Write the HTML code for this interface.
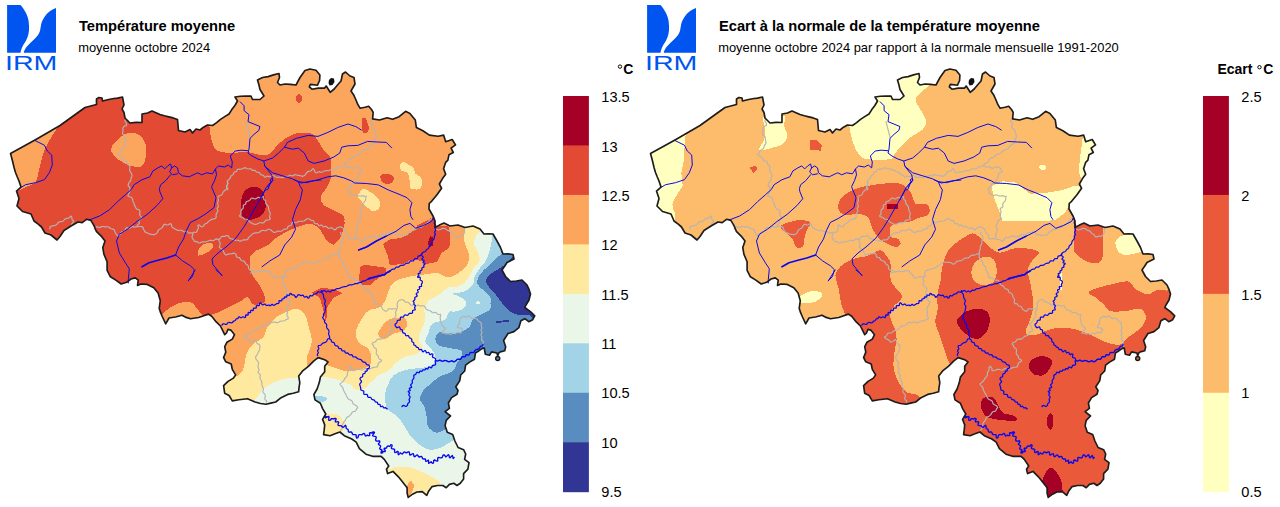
<!DOCTYPE html>
<html><head><meta charset="utf-8"><title>IRM</title>
<style>
html,body{margin:0;padding:0;background:#fff;}
body{width:1280px;height:507px;overflow:hidden;font-family:"Liberation Sans",sans-serif;}
svg{display:block;}
text{font-family:"Liberation Sans",sans-serif;fill:#000;}
</style></head><body>
<svg width="1280" height="507" viewBox="0 0 1280 507">
<defs>
<path id="bel" d="M10.5,153.5L35.0,140.0L60.0,125.5L85.0,107.5L96.5,104.5L96.5,99.0L99.0,97.5L102.0,98.0L102.5,101.0L107.5,99.8L112.4,98.7L117.5,98.1L122.5,97.0L124.0,105.0L122.0,109.0L124.0,112.5L125.0,118.0L130.0,123.0L136.0,122.4L142.0,122.5L142.0,114.0L147.5,113.0L152.0,111.0L160.0,114.5L164.4,115.8L168.8,116.9L173.2,117.9L177.5,119.5L178.0,125.0L178.5,130.5L185.0,132.0L190.0,129.5L192.5,133.0L196.0,129.0L200.0,130.0L203.5,127.2L207.5,125.0L212.5,125.5L216.6,122.6L220.5,119.4L224.7,116.6L229.0,114.0L231.8,109.6L234.9,105.5L237.5,101.0L235.0,97.0L240.3,96.3L245.7,96.1L251.0,96.0L252.5,99.5L260.0,99.5L264.0,96.0L260.0,89.5L258.9,84.7L257.5,80.0L262.5,77.5L268.1,76.6L273.5,74.9L279.0,73.5L279.5,77.5L277.5,82.5L280.0,85.0L285.0,84.0L290.5,84.4L296.0,85.0L300.0,77.5L305.0,70.5L310.0,69.0L316.0,70.3L319.9,75.0L319.6,80.5L317.5,85.2L310.4,84.4L309.3,86.8L312.0,89.2L318.3,88.1L324.6,88.1L326.2,86.0L327.5,88.0L330.2,92.3L334.2,89.0L337.5,85.0L341.0,81.0L342.5,74.0L345.5,72.0L350.0,76.0L354.0,77.5L355.0,84.0L351.0,91.0L353.9,95.3L356.0,100.0L357.7,104.2L360.0,108.2L365.0,107.2L368.7,106.3L371.5,109.5L373.2,112.4L372.6,118.9L379.5,120.0L387.1,117.8L392.6,119.3L399.1,116.7L405.6,111.3L409.9,113.4L415.3,120.0L416.4,127.6L422.9,130.8L429.4,135.1L438.1,136.2L443.6,135.1L445.7,141.7L452.2,139.5L455.5,144.9L451.1,148.2L453.3,152.5L449.0,154.7L447.9,160.1L445.7,162.3L443.6,168.8L445.7,174.2L442.5,178.6L439.4,184.0L441.6,188.3L437.0,194.8L431.6,201.3L429.2,203.5L429.0,209.0L433.0,216.0L435.0,221.0L435.0,227.5L439.4,225.1L444.0,223.0L450.0,226.0L458.0,225.0L465.0,227.5L473.0,226.0L480.0,229.0L484.0,234.0L488.5,233.7L493.0,234.0L497.0,241.0L500.5,247.5L503.0,254.0L508.0,253.9L513.0,254.5L514.0,259.0L507.0,262.5L504.6,266.3L502.0,270.0L505.5,276.5L510.5,281.5L516.3,281.0L522.0,280.0L527.0,285.0L529.0,289.4L530.5,294.0L529.0,300.0L526.0,305.0L524.8,307.5L530.7,311.8L534.7,315.8L532.7,319.7L528.8,321.7L524.8,318.7L520.9,320.7L518.9,327.6L514.0,331.6L508.0,333.5L503.6,340.5L505.7,346.9L504.7,350.8L500.3,351.9L498.6,353.2L497.7,355.9L496.9,353.0L491.6,351.9L489.5,355.2L485.3,354.2L484.2,347.8L481.9,348.6L478.5,351.0L475.4,353.0L474.5,359.2L469.6,362.1L465.6,365.1L464.7,371.0L460.7,375.0L459.7,380.9L455.8,386.8L458.0,390.5L457.0,394.3L451.6,397.6L448.4,403.0L449.4,408.4L445.1,411.7L450.5,416.0L446.2,420.4L445.1,425.8L447.3,432.3L452.7,434.5L454.9,441.0L458.1,447.5L463.6,449.7L465.7,454.0L464.6,459.4L469.0,462.7L467.9,469.2L463.6,473.6L463.6,479.0L460.3,483.3L457.0,485.5L453.8,483.3L449.4,484.4L446.2,487.7L442.9,485.5L437.5,485.5L432.1,486.6L428.8,490.9L426.7,495.3L422.3,491.6L416.9,492.0L412.6,494.2L408.2,497.4L407.1,493.1L407.1,487.7L402.8,482.2L398.4,476.8L393.0,471.4L387.6,473.6L386.5,469.2L388.7,466.0L384.3,459.4L381.1,456.3L372.5,456.3L366.0,454.2L359.4,448.7L356.2,442.2L351.8,439.0L344.3,435.7L339.9,432.0L335.0,433.8L330.1,435.7L323.6,434.6L324.2,430.0L324.7,424.9L322.6,419.4L325.8,414.0L322.6,408.6L320.4,403.2L315.0,399.9L313.9,394.5L317.1,389.0L319.3,382.6L320.4,377.1L324.7,371.7L324.7,366.3L328.0,361.9L324.7,359.8L318.2,357.6L313.9,360.9L308.4,366.3L303.0,370.6L298.7,376.0L299.8,382.6L299.1,387.2L298.6,391.8L293.2,393.2L287.7,394.4L281.1,397.7L275.7,402.0L270.8,403.1L266.0,404.2L260.5,403.5L255.1,402.0L247.5,398.7L238.8,399.8L232.3,400.9L229.1,395.5L224.7,393.3L223.6,385.7L228.0,381.4L233.4,378.1L235.6,374.9L232.3,369.4L231.2,364.0L225.8,361.8L223.6,357.5L225.8,352.1L224.7,346.7L226.9,342.3L232.3,339.1L234.5,334.7L231.2,330.4L228.0,329.3L226.5,333.0L224.7,334.7L222.6,330.4L220.4,326.0L216.0,321.7L211.7,316.3L208.4,314.1L203.0,316.0L198.7,317.5L190.5,318.8L186.1,317.4L182.0,315.2L175.5,317.0L169.0,318.0L165.7,323.8L162.5,317.0L160.6,312.7L159.2,308.3L160.3,300.7L158.1,293.1L153.8,287.7L147.3,284.4L140.8,284.0L137.5,285.5L138.2,280.1L135.3,277.9L131.0,279.0L126.7,282.3L121.2,284.0L115.8,280.1L110.4,276.8L107.1,270.3L107.1,261.7L103.9,254.1L102.8,247.6L105.0,241.0L101.7,236.7L96.3,231.3L94.1,225.9L90.9,220.4L86.5,219.3L82.2,222.6L78.0,222.0L71.0,226.0L64.0,230.5L60.0,236.5L57.0,240.0L51.0,235.0L45.0,233.0L41.5,227.0L37.9,223.9L34.0,221.0L31.0,214.0L22.5,211.5L17.0,206.0L19.0,198.5L16.5,191.0L21.0,187.0L19.0,181.0L17.2,176.8L15.5,172.5L14.1,167.8L13.0,163.0L11.8,158.2Z"/>
<clipPath id="clip"><use href="#bel"/></clipPath>
<g id="logo">
<path d="M7.1,5 L20.5,5 C24,9 27.8,15 28.6,21 C29.6,28 29,33 27.6,37 C26,41 24.5,43 23.7,44.2 C22.5,46.5 21,49 20.5,52.8 L7.1,52.8 Z" fill="#0055F0"/>
<path d="M56,7.9 C52,9 48.5,12 46.5,14.2 C44,17.5 42.5,20 41.8,22 C40.8,25 40.6,28 40.2,30 C39.5,33 38.5,34.5 37,36.3 C35,38.8 33,40.5 30.8,42.6 C28.5,45 26,47.5 25.2,48.9 C24.3,50.3 23.9,51.5 23.7,52.8 L56,52.8 Z" fill="#0055F0"/>
<text x="5.0" y="70.2" font-size="19.8" style="fill:#0055F0" textLength="52.4" lengthAdjust="spacingAndGlyphs">IRM</text>
</g>
<g id="overlay">
<g fill="none" stroke="#B4B4B4" stroke-width="1.15" stroke-linejoin="round" stroke-linecap="round"><path d="M125.2,119.6L124.9,120.5L125.2,121.3L125.6,122.1L126.1,122.9L126.5,123.7L126.5,124.6L126.3,125.6L125.4,125.8L124.6,126.1L123.9,126.5L123.4,127.2L122.9,128.0L122.6,128.6L123.0,129.2L123.1,130.1L123.0,131.0L122.7,131.9L122.5,132.8L122.6,133.6L122.9,134.5L123.6,135.2L124.2,135.8L124.8,136.4L125.1,137.2L125.3,138.0L125.4,138.9L125.5,139.7L125.7,140.4L125.6,141.0L125.8,141.8L126.0,142.7L125.9,143.5L125.5,144.2L124.9,144.9L124.4,145.6L124.1,146.3L124.1,147.1L123.8,147.8L123.4,148.6L122.8,149.1L122.0,149.5L121.3,149.9L120.7,150.4L120.1,151.0L119.7,151.7L119.3,152.5L118.8,153.1L118.2,153.7L117.4,154.0L117.9,154.6L118.4,155.2L119.0,155.7L119.7,156.1L120.4,156.5L121.1,156.8L121.8,157.2L122.3,157.8L122.7,158.5L123.1,159.3L123.3,160.0L123.9,160.5L124.7,160.8L125.6,161.0L126.4,161.3L127.0,161.8L127.3,162.6L127.4,163.5L127.7,164.3L128.3,164.8L129.0,165.1L129.5,165.8L129.8,166.6L129.9,167.5L129.8,168.4L129.7,169.2L129.7,170.1L129.9,171.0L130.3,171.7L130.7,172.4L131.2,173.0L131.6,173.7L131.8,174.4L131.9,175.2L131.8,176.1L131.7,176.8L131.3,177.3L131.1,178.1L131.0,179.0L130.9,179.9L130.5,180.6L130.1,181.3L129.5,181.9L129.0,182.6L128.6,183.3L128.4,184.1L128.2,184.9L128.0,185.5L128.6,186.0L129.1,186.7L129.6,187.4L130.1,188.0L129.9,188.6L129.8,189.5L129.8,190.3L129.8,191.1L129.6,191.9L129.3,192.7L128.9,193.4L128.5,194.2L128.1,194.9L127.9,195.9L128.8,196.5L129.6,196.7L130.4,197.0L131.1,197.3L131.8,197.8L132.3,198.5L132.6,199.2L132.9,199.9L132.7,200.6L133.0,201.5L133.4,202.3L133.9,203.1L134.3,203.9L134.4,204.7L134.4,205.5L134.9,206.0L135.3,206.8L135.6,207.5L136.0,208.2L136.5,208.8L137.2,209.2L138.1,209.5L138.9,209.8L139.7,210.3L139.9,211.2L139.9,212.1L139.8,212.9L139.7,213.8L139.7,214.6L140.0,215.3L140.5,216.0L141.1,216.7L141.7,217.5L141.4,218.5L140.7,219.1L139.8,219.6L139.2,220.2L139.0,221.0L139.2,222.0L139.3,222.9L139.0,223.6L138.4,224.3L137.8,224.9L137.3,225.6L137.0,226.5L138.0,226.7L138.9,226.7L139.8,226.5L140.6,226.5L141.5,226.6L142.3,226.9L143.1,227.3L143.1,228.1L143.3,228.9L143.7,229.6L144.1,230.2L144.5,230.9L144.9,231.6L145.2,232.2L145.9,232.4L146.6,232.6L147.3,233.0L148.1,233.3L148.8,233.6L149.5,234.0L150.2,234.2L151.0,234.4L151.8,234.4L152.6,234.5L153.4,234.6L153.9,234.8L154.4,234.5L155.1,234.2L155.9,233.9L156.6,233.4L157.1,232.9L157.5,232.1L157.8,231.3L158.1,230.6L158.5,229.9L159.2,229.4L160.0,229.0L160.8,228.6L161.5,228.2L162.1,227.6L162.6,226.9L163.0,226.1L163.4,225.4L163.9,224.7L164.7,224.1L165.6,224.5L166.5,224.9L167.3,225.0L168.2,224.8L169.0,224.3L169.9,223.8L171.0,223.8L171.5,224.8L171.6,225.7L171.8,226.5L172.3,227.2L172.9,227.7L173.7,228.1L174.4,228.5L174.9,229.0L175.5,229.2L176.2,229.5L176.9,229.9L177.6,230.2L178.4,230.4L179.2,230.5L180.0,230.3L180.8,230.2L181.6,230.2L182.3,230.6L183.0,231.2L183.6,231.6L184.4,231.7L185.3,231.5L186.2,231.2L187.0,231.3L187.7,232.0L188.3,232.7L189.1,233.1L189.9,233.1L190.8,232.9L191.7,232.9L192.4,233.3"/>
<path d="M137.2,226.4L136.5,226.8L135.7,227.0L134.9,227.1L134.1,226.9L133.2,226.6L132.4,226.4L131.6,226.7L130.9,227.3L130.2,228.0L129.5,228.3L128.6,228.2L127.8,227.8L126.8,227.5L126.0,228.1L125.6,228.8L125.3,229.6L124.9,230.3L124.3,230.9L123.6,231.3L122.8,231.6L122.0,231.8L121.3,232.2L120.8,232.9L120.5,233.7L120.1,234.4L119.6,235.0L118.8,235.4L118.0,235.6L117.6,235.9L117.3,235.4L116.8,234.8L116.2,234.2L115.7,233.6L115.3,232.9L115.0,232.1L114.8,231.3L114.5,230.5L114.1,229.8L113.6,229.2L112.8,229.1L112.0,229.0L111.2,228.8L110.5,228.5L109.9,228.1L109.3,227.5L108.6,227.0L107.9,226.7L107.1,226.7L106.3,226.8L105.6,226.8L104.8,226.9L104.0,226.7L103.2,226.5L102.4,226.5L101.6,226.5L100.8,226.9L100.0,227.4L99.3,227.6L98.4,227.3L97.6,226.8L96.6,226.7L95.9,227.5L95.5,228.3L94.9,228.9L94.0,229.0"/>
<path d="M49.7,229.0L50.2,228.0L49.8,227.1L50.4,226.7L51.1,226.3L51.8,226.1L52.5,225.9L53.3,225.8L54.0,225.6L54.9,225.4L55.6,225.1L56.4,224.7L57.0,224.2L57.5,223.5L58.1,222.8L58.7,222.3L59.4,221.9L60.2,221.8L61.1,221.6L62.0,221.5L62.7,221.2L63.4,220.7L64.0,220.1L64.5,219.5L65.2,219.0L65.9,218.6L66.6,218.4L67.5,218.3L68.3,218.2L69.1,217.9L69.7,217.3L70.2,216.6L71.2,216.0L71.8,217.0L71.8,217.9L71.9,218.9L72.2,219.7L72.9,220.3L73.7,221.0L73.4,221.9L72.9,222.5L72.3,223.1L71.9,223.8L71.5,224.5L71.4,225.3L71.0,226.0"/>
<path d="M246.0,121.6L248.0,129.4L250.0,137.3"/>
<path d="M227.3,190.0L227.8,189.2L227.9,188.3L227.3,187.5L226.8,186.7L226.7,185.8L227.2,185.0L227.7,184.2L227.8,183.4L227.5,182.5L227.2,181.7L227.5,180.9L228.0,180.3L228.6,179.8L229.2,179.3L229.8,178.7L230.2,178.1L230.5,177.3L230.7,176.5L231.1,175.9L231.8,175.4L232.6,175.0L233.2,174.6L233.5,173.8L233.7,172.9L234.1,172.2L234.8,171.9L235.8,171.7L236.5,171.4L236.9,170.7L237.1,169.8L237.9,169.2L238.7,169.1L239.6,169.3L240.4,169.3L241.2,169.1L242.0,168.8L242.7,168.5L243.5,168.2L244.3,167.9L245.1,167.7L245.9,168.1L246.6,168.5L247.4,168.8L248.2,169.0L249.1,168.9L249.9,168.7L250.8,168.7L251.5,169.4L252.1,170.1L252.8,170.4L253.7,170.3L254.6,170.3L255.3,170.8L255.9,171.4L256.6,171.9L257.3,172.3L258.2,172.4L259.1,172.4L259.8,172.9L260.2,173.7L260.6,174.5L261.3,174.9L262.2,175.0L263.0,175.2L263.7,175.7L264.1,176.4L264.7,177.2L265.6,177.0L266.4,176.4L267.1,176.0L267.9,176.2L268.8,176.6L269.6,176.7L270.4,176.5L271.1,176.0L271.9,175.5L272.7,175.2L273.6,175.5L274.3,176.0L275.0,176.6L275.7,177.1L276.5,177.3L277.4,177.4L278.2,177.2L279.1,177.1L279.9,177.2L280.6,177.5L281.4,177.6L282.3,177.7L283.1,177.6L283.8,177.1L284.5,176.6L285.3,176.2L286.1,176.3L287.0,176.4L287.8,176.3L288.5,175.9L289.3,175.5L290.1,175.2L290.9,175.5L291.8,175.8L292.6,175.9L293.4,175.4L294.2,174.9L295.0,174.6L295.8,174.7L296.7,175.0L297.5,175.3L298.2,175.3L298.8,175.5L299.6,175.6L300.4,175.7L301.1,175.8L301.8,176.1L302.3,176.5L302.8,176.2L303.6,175.9L304.3,175.6L304.9,175.2L305.5,174.6L305.9,173.9L306.3,173.2L306.8,172.6L307.3,172.0L308.0,171.6L308.9,171.4L309.7,171.3L310.5,171.0L311.2,170.5L311.8,169.9L312.3,169.2L313.1,168.6L313.8,169.4L314.2,170.1L314.6,170.9L314.9,171.6L315.4,172.3L316.0,173.0L316.9,172.7L317.6,172.3L318.3,172.0L319.1,171.9L319.9,171.9L320.7,172.1L321.5,172.2L322.3,172.0L323.0,171.7L323.7,171.3L324.4,171.0L325.2,170.8L326.0,170.7L326.8,170.6L327.6,170.7L328.5,170.7L329.3,170.5L330.0,170.1L330.7,169.6L331.4,169.1L332.2,168.8L333.0,168.7L333.8,168.8L334.7,169.0L335.6,169.1L336.4,168.9L337.1,168.4L337.7,167.7L338.3,167.0L339.0,166.7L340.0,166.7L340.9,166.7L341.7,166.5L342.4,166.0L343.0,165.4L343.6,164.8L344.1,164.2L344.7,163.7L345.5,163.3L346.2,163.0L347.0,162.6L347.6,162.1L348.2,161.5L348.6,160.8L349.0,160.0L349.4,159.2L350.0,158.6L350.7,158.2L351.6,157.9L352.5,157.8L353.3,157.6L353.9,157.1L354.5,156.5L355.1,155.8L355.7,155.2L356.3,154.6L357.0,154.2L357.9,154.0L358.8,153.9L359.7,153.8L360.4,153.4L361.0,152.8L361.6,152.1L362.1,151.5L362.8,150.9L363.5,150.5L364.2,150.0L365.0,149.7L365.8,149.5L366.7,149.3L367.5,149.0L368.2,148.5L368.7,147.8L369.2,147.1L369.6,146.5L370.2,145.9L370.8,145.4L371.4,145.0L372.0,144.5L372.7,144.1L373.3,143.7L374.0,143.2L374.5,142.6L374.8,141.9L375.1,141.2L374.9,140.4L374.9,139.6L375.2,138.9L375.7,138.1L376.2,137.4L376.5,136.6L376.5,135.8L376.2,135.0L375.9,134.2L375.8,133.5L375.5,133.0L375.3,132.2L375.1,131.3L374.9,130.5L374.5,129.8L373.9,129.3L373.1,128.9L372.4,128.4L371.8,127.7L371.7,126.8L371.9,126.0L372.2,125.2L372.4,124.4L372.3,123.6L372.0,122.9L371.5,122.2L370.9,121.6L370.5,120.9L371.0,120.0"/>
<path d="M343.7,166.0L344.5,166.1L345.2,166.6L346.0,167.0L346.7,167.3L347.6,167.2L348.5,167.0L349.4,166.8L350.2,166.9L350.9,167.4L351.6,168.1L352.5,168.4L353.2,168.3L353.9,167.7L354.6,167.1L355.4,166.8L356.2,166.9L357.0,167.2L357.8,167.3L358.4,167.2L359.0,167.6L359.8,167.8L360.5,168.3L360.9,169.0L361.1,169.9L361.4,170.7L362.1,170.9L361.9,171.6L361.4,172.2L360.6,172.5L359.7,172.6L359.0,173.1L358.4,173.7L358.5,174.7L358.4,175.6L358.2,176.4L357.8,177.2L357.5,178.0L357.2,178.8L356.7,179.3L356.3,180.0L355.8,180.7L355.4,181.4L354.9,182.1L354.3,182.7L353.6,183.1L352.7,183.4L352.0,183.8L351.5,184.5L351.3,185.4L351.1,186.3L350.6,186.9L349.9,187.3L349.2,187.7L348.7,188.3L348.3,189.0L348.1,189.7L348.7,190.2L348.9,191.0L348.9,192.0L349.1,192.8L349.8,193.4L350.6,193.9L351.0,194.3L351.6,194.5L352.4,195.0L353.2,195.3L354.0,195.3L354.8,195.2L355.7,195.0L356.5,195.0L357.3,195.3L358.1,195.6L358.9,195.8L359.7,196.0L360.5,196.0L361.4,195.9L362.3,195.8L363.1,195.8L364.0,196.1L364.8,196.5L365.7,196.8L366.3,196.5L366.2,196.0L366.0,196.4L365.9,197.2L365.8,198.0L365.8,198.8L365.6,199.6L365.4,200.4L365.0,201.0L364.5,201.7L363.9,202.3L363.3,202.9L362.9,203.6L362.8,204.4L362.8,205.3L362.9,206.3L362.6,207.0L361.9,207.6L361.0,208.0L360.3,208.6L360.1,209.5L360.7,210.4L361.0,211.2L361.1,212.0L360.8,212.8L360.5,213.6L360.4,214.5L360.2,215.3L360.3,216.1L360.6,216.9L361.0,217.7L361.2,218.7L360.6,219.5L359.7,219.8L358.8,220.1L358.1,220.6L357.8,221.3L357.6,222.2L357.4,223.1L357.1,223.6L356.8,224.2L356.4,225.1L356.0,225.9L356.0,226.7L356.3,227.5L356.7,228.4L357.1,229.2L357.3,230.0L357.2,230.8L356.8,231.7L356.4,232.5L356.1,233.2L355.8,233.9L355.7,234.6L355.8,235.5L355.8,236.3L355.8,237.1L355.6,237.9L355.1,238.5L354.7,239.1L353.9,238.8L353.1,238.6L352.2,238.6L351.3,238.7L350.4,238.8L349.6,238.8L348.6,238.5L348.5,237.5L348.7,236.6L348.7,235.8L348.4,235.0L347.9,234.4L347.3,233.8L346.6,233.2L346.2,232.7L345.7,232.2L345.4,231.4L345.1,230.5L344.7,229.7L344.2,229.0L343.6,228.4L342.8,228.0L342.0,227.6L341.3,227.2L340.8,226.7L340.2,226.9L339.4,227.1L338.6,227.3L337.8,227.5L337.1,227.9L336.4,228.5L335.9,229.2L335.1,229.9L334.1,229.6L333.4,229.0L332.7,228.3L331.9,227.9L331.1,227.8L330.2,228.0L329.3,228.3L328.4,228.3L327.7,227.9L327.0,227.1L326.4,226.5L325.7,226.3L324.7,226.6L323.8,227.0L323.1,226.7L322.5,225.8L321.9,225.1L321.1,225.1L320.1,225.6L319.3,225.8L318.6,225.2L318.0,224.3L317.5,223.8L316.8,223.6L315.7,223.7L314.8,223.5L314.3,222.7L314.0,221.8L313.6,221.0L312.9,220.5L312.0,220.4L311.1,220.2L310.3,219.9L309.7,219.3L309.3,218.7L308.6,218.7L307.8,218.7L307.0,218.9L306.3,219.2L305.7,219.7L305.0,220.2L304.4,220.7L303.7,221.0L303.0,221.2L302.2,221.3L301.4,221.3L300.6,221.2L299.8,221.2L299.0,221.3L298.2,221.6L297.5,222.1L296.7,222.5L295.9,222.7L295.1,222.6L294.3,222.3L293.3,222.1L292.5,222.5L292.0,223.1L291.6,224.0L291.3,224.8L290.8,225.5L290.0,225.8L289.1,225.9L288.2,226.2L287.8,226.9L287.6,228.0L287.2,228.7L286.4,229.0L285.5,229.1L284.7,229.1L284.0,229.3L283.3,229.9L282.6,230.4L282.0,230.9L281.2,231.1L280.4,231.2L279.6,231.2L278.7,231.1L277.9,231.1L277.1,231.3L276.4,231.7L275.8,232.2L275.0,232.3L274.1,232.3L273.4,232.1L272.7,231.7L272.1,231.2L271.5,230.5L270.9,230.0L270.3,229.5L269.5,229.3L268.7,229.2L267.9,229.3L267.2,229.9L266.5,230.4L265.7,230.7L264.8,230.7L263.9,230.5L263.0,230.4L262.1,230.5L261.3,230.8L260.7,231.2L260.0,231.8L259.3,232.3L258.6,232.6L257.8,232.7L257.0,232.8L256.2,232.8L255.4,232.9L254.6,233.0L253.8,233.3L253.1,233.6L252.4,234.1L251.8,234.5L251.4,235.1L250.8,235.6L250.2,236.1L249.5,236.6L248.9,237.1L248.4,237.8L248.1,238.5L247.8,239.3L247.0,239.7L246.2,239.8L245.3,239.8L244.5,239.8L243.7,239.8L242.9,240.1L242.2,240.5L241.4,240.8L240.6,241.1L239.8,241.1L239.0,240.7L238.3,240.4L237.5,240.3L236.7,240.2L235.8,240.2L235.0,240.1L234.2,239.9L233.5,239.5L232.8,239.1L232.0,238.9L231.3,238.7L230.4,238.6L229.7,238.2L229.2,237.6L228.8,236.8L228.3,236.1L227.6,235.7L226.7,235.6L226.0,235.6L225.6,236.1L224.8,236.3L223.8,236.3L222.9,236.3L222.1,236.4L221.4,236.8L220.8,237.5L220.3,238.3L219.7,239.0L219.0,239.4L218.1,239.5L217.1,239.1L216.3,238.9L215.5,239.1L214.7,239.7L214.0,240.3L213.2,240.6L212.3,240.5L211.5,240.4L210.6,240.3L209.8,240.4L209.0,240.7L208.2,241.0L207.5,241.2L206.7,241.5L206.0,241.7L205.2,241.8L204.4,241.8L203.6,241.8L202.8,241.8L202.1,242.0L201.3,242.3L200.6,242.6L199.9,242.9L199.1,243.0L198.3,243.0L197.8,242.3L197.2,241.8L196.4,241.6L195.5,241.6L194.7,241.4L194.1,240.8L193.7,240.0L193.3,239.3L192.8,239.0L192.5,238.4L192.2,237.5L192.0,236.7L192.3,235.8L192.7,235.0L192.9,234.1L192.5,233.4L193.0,232.7L193.6,232.2L194.5,232.3L195.4,232.5L196.1,232.3L196.8,231.8L197.2,231.2L197.1,230.4L197.4,229.6L198.0,228.8L198.4,228.0L198.3,227.1L198.0,226.2L198.0,225.0L199.2,225.1L200.0,225.6L200.7,226.3L201.5,226.7L202.4,226.8L203.3,226.5L203.7,225.7L204.0,224.9L204.5,224.3L205.2,223.9L205.9,223.5L206.7,223.2L207.4,222.8L207.9,222.2L208.3,221.6L208.9,221.1L209.6,220.6L210.2,220.2L210.9,219.7L211.6,219.4L212.4,219.1L213.2,219.0L214.0,218.9L214.8,218.7L215.5,218.2L216.2,217.6L216.1,216.7L216.1,215.8L216.1,215.0L216.2,214.2L216.5,213.4L217.0,212.7L217.5,211.9L217.9,211.2L217.8,210.3L217.4,209.4L217.1,208.5L217.5,207.7L218.2,207.0L218.4,206.2L218.2,205.4L217.9,204.7L217.7,203.9L217.7,203.1L217.9,202.3L218.1,201.6L218.2,200.8L218.4,200.0L218.3,199.2L218.1,198.5L217.8,197.6L218.2,196.7L218.7,196.1L219.5,195.8L220.3,195.5L221.1,195.2L221.8,194.7L222.3,194.0L222.6,193.3L222.9,192.5L223.3,191.8L223.8,191.3L224.4,190.8L225.1,190.3L225.6,189.8L226.2,189.2L226.6,188.6L226.9,187.8L226.6,187.1L226.6,186.3L226.9,185.6L227.4,184.8L227.7,184.1L227.9,183.3L227.7,182.5L227.3,181.7"/>
<path d="M239.8,216.5L239.6,215.6L240.3,215.0L240.8,214.3L241.0,213.5L240.9,212.7L241.0,211.9L241.0,211.1L241.2,210.3L241.6,209.6L242.4,209.1L243.0,208.5L243.3,207.8L243.3,206.8L243.2,205.9L243.6,205.1L244.4,204.7L245.3,204.3L245.8,203.7L245.8,202.8L246.1,201.9L246.8,201.5L247.6,201.3L248.4,201.1L249.1,200.6L249.7,200.2L250.3,199.6L250.8,198.9L251.4,198.2L252.3,198.1L253.2,198.3L254.0,198.6L254.8,198.8L255.6,198.8L256.4,198.4L257.1,197.9L257.9,197.4L258.6,197.3L259.5,197.6L260.3,197.8L261.1,197.7L261.9,197.2L262.6,196.8L263.5,196.5L263.8,197.5L263.7,198.3L263.7,199.1L264.2,199.7L265.1,200.2L265.7,200.8L265.8,201.5L265.7,202.4L265.7,203.3L266.1,204.0L266.7,204.6L267.3,205.2L267.8,205.9L268.2,206.6L268.5,207.3L268.6,208.2L268.7,209.0L268.9,209.7L269.0,210.5L269.3,211.2L269.7,212.0L270.1,212.8L270.3,213.6L270.2,214.4L269.9,215.3L269.6,216.1L269.6,216.9L269.9,217.7L270.4,218.5L269.8,219.3L269.2,219.8L268.4,220.0L267.5,220.0L266.6,220.1L265.9,220.3L265.3,220.9L264.7,221.6L264.2,222.2L263.5,222.8L262.7,222.9L261.9,222.8L261.1,222.8L260.3,222.7L259.6,222.8L258.8,223.0L258.1,223.4L257.4,223.8L256.7,224.2L255.9,224.3L255.1,224.3L254.3,224.2L253.6,224.2L253.1,223.8L252.5,223.3L251.7,223.0L251.0,222.7L250.3,222.4L249.7,221.9L249.2,221.3L248.7,220.6L248.2,220.0L247.5,219.6L246.8,219.3L245.9,219.2L245.0,219.1L244.3,218.8L243.6,218.2L242.9,217.6L242.2,217.2L241.4,217.0L240.6,216.9L239.8,216.5"/>
<path d="M219.0,239.2L218.7,240.0L219.0,240.8L219.4,241.5L219.9,242.3L220.2,243.0L220.2,243.8L220.0,244.6L219.7,245.5L219.4,246.3L219.4,247.2L220.1,248.0L220.9,248.4L221.6,248.9L222.3,249.4L222.9,250.0L223.3,250.8L223.6,251.6L223.9,252.4L224.2,253.2L224.7,253.9L225.3,254.5L226.0,255.1L226.7,254.7L227.5,254.3L228.3,254.1L229.1,254.0L229.9,253.9L230.7,253.9L231.5,253.8L232.3,253.6L233.1,253.4L233.8,253.0L234.5,253.3L235.3,253.7L235.9,254.2L236.2,255.0L236.3,255.9L236.6,256.7L237.2,257.2L238.0,257.4L238.9,257.6L239.7,257.9L240.1,258.6L240.4,259.4L240.9,260.1L241.6,260.5L242.4,260.7L243.2,260.9L243.9,261.2L244.5,261.7L245.0,262.4L245.4,263.1L245.7,263.7L246.3,264.2L247.1,264.7L247.7,265.2L248.2,265.8L248.4,266.6L248.5,267.5L248.6,268.3L248.9,269.0L249.4,269.6L250.1,270.1L250.8,270.4L251.5,270.2L252.2,270.3L252.9,270.7L253.7,271.2L254.4,271.6L255.1,271.8L255.9,271.8L256.7,271.7L257.5,271.6L258.3,271.3L259.0,271.2L259.8,271.3L260.6,271.4L261.4,271.5L262.2,271.6L263.0,271.5L263.8,271.4L264.6,271.1L265.4,270.9L266.1,270.7L266.9,270.6L267.7,270.6L268.5,270.7L269.2,270.8L269.4,271.6L269.8,272.4L270.3,273.0L270.9,273.6L271.7,274.1L272.4,274.6L273.0,275.2L273.4,275.9L273.6,276.8L273.7,277.7L274.6,278.0L275.4,278.1L276.2,277.9L276.9,277.6L277.7,277.2L278.4,276.9L279.2,276.7L280.0,276.7L280.8,276.8L281.6,276.8L282.4,276.9L283.2,277.0L283.9,277.0L284.9,276.8L285.0,275.8L284.9,274.9L284.8,274.0L284.9,273.2L285.1,272.4L285.4,271.5L285.7,270.8L286.4,270.6L287.2,270.4L287.9,270.1L288.6,269.8L289.3,269.4L290.0,269.1L290.8,268.8L291.6,268.7L292.4,268.6L293.2,268.5L293.9,268.4L294.7,268.1L295.3,267.7L296.0,267.2L296.7,266.8L297.3,266.5L297.9,266.0L298.5,265.6L299.2,265.1L299.9,264.7L300.5,264.1L301.0,263.5L301.4,262.9L302.2,262.6L303.0,262.3L303.9,262.1L304.7,262.1L305.6,262.2L306.5,262.3L307.3,262.2L308.0,262.3L308.8,262.3L309.6,262.4L310.4,262.5L311.1,262.8L311.8,263.2L312.5,263.7L313.3,264.2L314.2,263.9L314.9,263.4L315.5,262.8L316.1,262.1L316.7,261.4L317.5,261.1L318.3,261.0L319.2,260.9L320.1,260.8L320.9,260.6L321.6,260.3L322.4,259.9L323.1,259.4L323.8,258.9L324.5,258.4L325.3,258.1L326.1,258.0L327.0,258.0L327.9,257.9L328.7,257.6L329.4,257.1L330.0,256.5L330.6,255.8L331.3,255.4L332.1,255.1L333.0,255.0L333.9,255.1L334.7,255.0L335.6,254.7L336.4,254.3L337.2,254.0L338.0,253.9L338.9,254.0"/>
<path d="M340.9,232.3L340.5,233.2L340.8,234.0L341.2,234.7L341.8,235.4L342.4,236.0L342.8,236.7L342.9,237.5L342.8,238.4L342.7,239.2L342.2,239.9L341.9,240.6L341.9,241.4L341.9,242.2L341.9,243.0L341.8,243.8L341.5,244.5L341.0,245.2L340.5,245.9L340.3,246.7L340.3,247.5L340.3,248.3L340.2,249.1L340.0,249.8L339.6,250.6L339.4,251.3L339.3,252.1L339.3,252.9L339.3,253.7L339.3,254.5L339.3,255.3L339.2,256.1L339.0,256.9L339.3,257.6L339.6,258.3L340.0,259.0L340.5,259.6L341.1,260.2L341.7,260.7L342.2,261.3L342.5,262.0L342.8,262.8L343.0,263.6L343.2,264.4L343.6,265.1L344.2,265.7L345.0,266.2L345.5,266.8L345.7,267.6L345.7,268.6L345.7,269.5L346.0,270.2L346.6,270.8L347.1,271.4L347.5,272.1L347.8,272.8L348.0,273.5L348.1,274.3L348.2,275.0L348.4,275.8L348.5,276.5L348.8,277.3L349.2,278.0L350.1,278.0L351.0,277.9L351.8,277.9L352.6,278.1L353.3,278.7L354.0,279.3L354.7,279.9L355.4,280.2L356.3,280.2L357.2,280.0L357.9,280.3L358.6,280.8L359.0,281.5L359.3,282.2L359.6,283.0L360.0,283.7L360.4,284.3L361.0,284.9L361.7,285.3L362.4,285.6L363.1,286.0L363.7,286.6L364.1,287.3L364.5,288.0L365.0,288.6L365.7,289.0L366.6,289.1L367.5,289.2L368.1,289.9L368.4,290.8L368.6,291.7L369.1,292.4L369.9,292.8L370.7,293.2L371.5,293.6L372.1,294.1L372.5,294.9L372.8,295.7L372.7,296.5L373.0,297.3L373.6,298.0L374.2,298.7L374.5,299.4L374.5,300.3L374.3,301.2L374.1,302.0L374.3,302.8L374.9,303.6L375.9,303.6L376.7,303.8L377.4,304.3L377.9,305.0L378.5,305.7L379.2,306.1L380.1,306.2L381.0,306.3L381.6,307.0L381.9,307.7L382.3,308.4L382.6,309.1L383.1,309.7L383.9,310.1L384.7,310.5L384.9,310.9L385.6,311.1L386.5,311.2L387.2,310.8L387.7,309.9L388.3,309.1L389.0,308.7L389.9,308.7L390.8,308.8L391.5,309.1L392.3,309.1L393.2,308.8L394.1,308.7L395.0,308.7L395.8,309.0L396.6,309.5L397.0,308.7L397.3,308.0L397.4,307.2L397.4,306.4L397.3,305.6L397.2,304.8L397.2,304.0L397.3,303.3L397.6,302.5L398.0,301.8L398.5,301.2L399.0,300.5L399.0,300.2L399.4,300.3L400.3,300.0L401.2,299.7L402.1,299.5L402.9,299.7L403.7,300.2L404.4,300.9L404.8,301.6L405.5,301.9L406.3,302.1L407.2,302.2L408.0,302.4L408.6,302.8L409.2,303.3L409.7,303.9L410.3,304.5L410.9,305.1L411.6,305.3L412.4,305.4L413.2,304.9L414.0,305.0L414.9,305.6L415.7,306.0L416.5,305.9L417.4,305.4L418.2,305.1L419.0,305.2L419.8,305.7L420.6,306.1L421.5,306.0L422.3,305.6L423.2,305.7L424.0,305.9L424.7,306.4L425.2,307.2L425.6,308.0L426.0,308.8L426.5,309.5L427.2,309.9L428.1,310.2L429.0,310.3L429.8,310.5L430.4,311.0L431.0,311.4L431.7,312.0L432.3,312.5L433.1,312.8L433.9,312.7L434.8,312.4L435.7,312.4L436.4,312.8L437.0,313.5L437.6,314.2L438.3,314.6L439.2,314.5L440.2,314.2L440.7,315.1L440.6,316.0L440.3,316.8L440.1,317.7L440.2,318.5L440.4,319.3L440.6,320.1L440.8,320.9L441.1,321.7L441.2,322.5L441.2,323.2L441.5,323.9L441.8,324.7L442.1,325.4L442.6,326.1L443.2,326.6L444.0,327.0L444.8,327.4L445.6,328.2L445.1,329.2L444.4,329.8L443.8,330.3L443.1,330.9L442.6,331.6L442.2,332.3L441.9,333.1L442.8,333.0L443.6,332.9L444.4,333.2L445.1,333.7L445.9,334.0L446.7,333.9L447.6,333.6L448.4,333.4L449.1,333.8L449.9,334.4L450.8,334.5L451.5,334.0L452.2,333.4L453.0,333.2L453.8,333.4L454.7,333.6L455.5,333.5L456.2,333.1L456.9,332.5L457.7,332.3L458.5,332.5L459.4,332.9L460.2,332.9L461.0,332.5L461.6,332.0L461.6,331.3L461.9,330.6L462.3,329.9L462.8,329.2L462.1,328.7L461.4,328.3L460.7,328.0L460.0,327.8L459.2,327.8L458.4,327.7L457.4,327.4L457.6,326.3L457.9,325.6L458.4,324.9L458.9,324.2L459.3,323.5L459.5,322.7L459.5,321.9L459.5,321.1L459.6,320.3L459.9,319.5L460.1,318.8L460.6,318.1L460.9,317.6L461.5,317.6L462.3,317.2L463.0,316.6L463.7,316.3L464.6,316.6L465.4,317.1L466.2,317.2L467.0,316.9L467.7,316.2L468.6,316.1L469.4,316.3L470.1,316.8L470.7,317.4L471.3,318.0L472.0,318.4L472.8,318.4L473.7,318.3L474.5,318.2L475.3,318.3L476.1,318.6L476.8,318.9L477.5,319.4L477.8,320.1L478.2,320.8L478.8,321.3L479.5,321.7L480.3,322.1L480.8,322.7L481.2,323.4L481.4,324.2L481.2,325.0L481.3,325.8L481.5,326.6L481.8,327.4L481.8,328.2L481.5,329.0L481.1,329.8L481.1,330.6L481.6,331.5L482.1,332.3L481.9,333.1L481.3,333.9L481.0,334.7L481.2,335.5L481.8,336.3L482.0,337.0L481.9,337.8L481.6,338.8L481.5,339.6L482.0,340.3L482.8,341.0L483.3,341.7L483.4,342.5L483.2,343.4L483.1,344.2L483.3,345.0L483.6,345.8L484.0,346.5"/>
<path d="M356.6,239.2L357.3,239.6L358.2,239.5L359.0,239.5L359.7,239.7L360.4,240.2L361.0,240.8L361.7,241.2L362.7,241.3L363.3,240.6L363.7,239.9L364.1,239.2L364.7,238.7L365.2,238.1L365.8,237.6L366.5,237.2L367.3,237.3L368.1,237.4L368.9,237.4L369.7,237.3L370.4,237.0L371.2,236.6L372.0,236.3L372.7,236.0L373.5,235.9L374.3,236.2L375.2,236.5L376.0,236.7L376.8,236.8L377.6,236.8L378.4,236.5L379.1,236.1L379.8,235.6L380.5,235.1L381.2,234.9L382.0,234.7L382.8,234.8L383.7,234.8L384.5,234.8L385.3,234.7L386.0,234.3L386.7,233.8L387.3,233.2L388.0,232.8L388.8,232.6L389.6,232.6L390.5,232.7L391.3,232.7L392.0,232.4L392.7,232.0L393.3,231.5L394.2,231.0L394.9,231.6L395.3,232.3L395.7,233.0L396.1,233.8L396.6,234.4L397.3,234.8L398.0,235.1L398.8,234.7L399.6,234.6L400.4,234.9L401.2,235.4L402.0,235.6L402.8,235.5L403.6,235.2L404.4,235.0L405.2,234.9L405.9,235.0L406.7,234.9L407.5,234.6L408.0,234.0L408.2,233.1L408.5,232.2L409.2,231.9L410.2,231.9L411.1,231.8L411.6,231.2L411.8,230.1L412.4,229.5L413.3,229.4L414.2,229.7L415.0,229.8L415.7,229.5L416.4,228.9L417.0,228.3L417.6,227.9L418.3,227.5L419.1,227.3L420.0,227.2L420.8,227.1L421.6,226.9L422.3,226.5L422.9,226.0L423.6,225.5L424.2,225.0L424.9,224.6L425.6,224.2L426.2,223.8L426.9,223.3L427.6,222.8L428.2,222.2L428.7,221.5L429.1,220.7L429.6,220.0L430.2,219.5L431.1,219.2L431.6,218.5"/>
<path d="M436.5,229.6L437.3,229.6L438.2,229.8L439.0,229.8L439.8,229.7L440.6,229.4L441.3,229.0L442.1,228.6L442.9,228.4L443.7,228.3L444.6,228.5L445.4,228.6L446.0,229.2L446.5,229.7L447.2,230.2L447.9,230.5L448.8,230.6L449.5,230.9L450.2,231.3L450.7,232.0L451.1,232.7L451.6,233.3L452.3,233.7L453.1,234.1L453.8,234.6L454.3,235.2L454.7,235.9L455.1,236.7L456.0,236.9L456.9,236.9L457.7,236.6L458.6,236.3L459.4,236.1L460.3,236.2L461.1,236.4L461.7,236.0L462.3,235.5L462.9,234.9L463.4,234.3L463.9,233.6L464.3,232.9L464.6,232.4L464.5,231.9L464.5,231.1L464.6,230.3L464.5,229.6L464.0,229.0"/>
<path d="M284.0,275.9L284.0,276.7L283.6,277.5L283.2,278.2L283.1,279.0L283.3,279.8L283.7,280.7L283.9,281.5L283.8,282.3L283.4,283.0L282.9,283.8L283.1,284.7L283.5,285.4L284.1,285.9L284.7,286.4L285.4,286.9L285.9,287.5L286.3,288.2L286.7,288.9L286.9,289.7L286.5,290.4L286.1,291.2L285.9,292.0L285.9,292.8L286.1,293.7L286.2,294.5L286.0,295.3L285.5,296.1L285.0,296.8L284.7,297.7L285.5,298.2L286.3,298.5L287.0,298.9L287.6,299.4L288.1,300.1L288.6,300.8L289.1,301.3L289.7,301.7L289.6,302.4L289.5,303.2L289.3,304.1L289.0,304.8L288.5,305.6L288.0,306.2L287.5,306.9L287.2,307.7L287.0,308.5L286.9,309.4L287.2,310.2L287.4,311.0L287.5,311.8L287.4,312.7L287.2,313.5L287.0,314.4L287.0,315.2L287.3,316.0L287.9,316.8L288.2,317.6L288.2,318.4L287.9,319.3L287.0,319.2L286.3,319.4L285.6,319.9L285.0,320.5L284.2,320.8L283.5,321.0L282.6,321.0L281.8,321.0L281.0,321.1L280.3,321.3L279.5,321.6L278.9,322.1L278.1,322.5L277.3,322.6L276.5,322.6L275.7,322.4L274.9,322.1L274.1,322.0L273.4,322.1L272.6,322.3L271.8,322.6L271.0,322.7L270.2,322.4L269.4,322.4L268.5,322.5L267.8,322.9L267.2,323.5L266.7,324.2L266.1,324.9L265.5,325.4L264.7,325.7L263.9,325.8L263.0,325.8L262.1,325.9L261.4,326.2L260.8,326.7L260.2,327.2L259.6,327.8L259.1,328.4L258.6,329.0L258.0,329.5L257.3,329.8L256.4,330.0L255.6,330.1L254.8,330.3L254.2,330.7L253.5,331.2L252.9,331.8L252.2,332.4L251.5,332.8L250.7,333.0L249.7,333.0L248.9,333.0L248.1,333.3L247.3,333.9L247.0,334.8L246.6,335.6L246.0,336.2L245.2,336.6L244.4,337.1L244.9,337.8L245.5,338.3L246.1,338.8L246.9,339.1L247.6,339.4L248.4,339.7L249.0,340.2L249.5,340.7L250.0,341.4L250.5,342.1L251.3,342.0L252.1,341.8L252.7,341.5L253.4,341.1L254.0,340.6L254.6,340.0L255.6,339.5L256.3,340.3L256.5,341.1L256.5,342.0L256.7,342.9L257.2,343.5L257.9,343.9L258.8,344.2L259.4,344.7L259.7,345.4L259.9,346.3L260.0,346.9L259.7,347.5L259.7,348.3L259.7,349.1L259.5,349.9L259.2,350.6L258.8,351.3L258.4,352.0L258.1,352.7L257.7,353.4L257.3,354.1L257.0,354.9L256.6,355.7L256.1,356.3L255.5,356.8L255.6,357.6L255.8,358.4L256.1,359.2L256.6,359.9L257.1,360.5L257.7,361.2L258.2,361.9L258.6,362.6L258.5,363.5L258.4,364.3L258.3,365.1L258.1,365.9L258.1,366.7L258.2,367.5L258.5,368.2L258.8,369.0L259.0,369.8L258.8,370.6L258.1,371.5L258.0,372.4L258.5,373.1L259.3,373.7L259.9,374.3L260.3,375.0L260.3,375.8L260.0,376.7L260.0,377.6L260.1,378.4L260.4,379.1L260.8,379.8L261.2,380.5L261.5,381.3L261.7,382.0L261.8,382.8L261.9,383.6L261.9,384.3L262.0,385.1L262.1,385.9L262.4,386.6L262.8,387.3L263.2,388.0L263.4,388.8L263.3,389.5L263.1,390.4L262.9,391.2L263.0,392.0L263.4,392.8L264.0,393.4L264.7,394.1L265.1,394.8L265.3,395.6L265.2,396.5L264.9,397.4L264.8,398.3L264.9,399.1L265.4,399.8L266.0,400.4L266.7,401.1L266.4,402.0"/>
<path d="M250.5,273.0L258.3,271.0"/>
<path d="M396.6,310.4L395.9,311.1L395.6,311.8L395.5,312.7L395.7,313.5L395.9,314.4L395.9,315.3L395.8,316.0L395.4,316.8L395.0,317.5L394.6,318.2L394.0,318.8L393.6,319.4L393.1,320.0L392.7,320.6L392.4,321.4L392.0,322.1L391.4,322.6L390.7,323.0L389.9,323.4L389.3,324.2L390.1,324.9L390.8,325.5L391.2,326.2L391.4,327.0L391.6,327.9L391.9,328.7L392.6,329.2L392.5,330.0L392.2,330.8L391.6,331.3L390.7,331.6L389.9,332.0L389.3,332.5L388.9,333.2L388.8,334.1L388.4,334.9L387.8,335.5L387.0,335.8L386.2,335.9L385.3,336.1L384.6,336.4L384.0,336.9L383.4,337.4L382.8,338.1L382.2,338.6L381.5,338.9L380.7,339.1L379.9,339.1L379.0,339.0L378.2,339.1L377.5,339.3L376.8,339.8L376.4,340.6L375.9,341.3L375.3,341.8L374.5,342.1L373.7,342.3L373.0,342.7L372.5,343.3L372.1,344.0L372.7,344.4L373.2,345.1L373.5,345.8L373.7,346.6L374.1,347.3L374.7,347.9L375.4,348.3L376.1,348.8L376.4,349.7L376.5,350.5L376.4,351.4L376.3,352.3L376.2,353.2L376.4,354.0L376.8,354.8L377.6,355.3L378.1,355.9L378.4,356.6L378.5,357.5L378.7,358.4L379.3,358.9L380.1,359.3L380.9,359.7L381.6,360.7L380.8,361.6L379.9,362.0L379.2,362.4L378.6,363.0L378.2,363.7L378.0,364.5L377.8,365.3L377.6,366.1L377.1,366.9L376.2,367.1L375.4,367.2L374.7,367.3L373.9,367.4L373.1,367.6L372.3,367.8L371.6,368.1L370.9,368.5L370.1,368.8L369.3,369.1L368.5,369.2L367.7,369.0L366.8,368.7L366.0,368.4L365.2,368.4L364.4,368.7L363.6,369.2L362.9,369.7L362.1,370.0L361.2,370.0L360.4,369.8L359.5,369.5L358.7,369.3L357.8,369.3L357.0,369.4L356.2,369.8L355.4,370.1L354.6,370.5L353.8,370.7L353.0,370.8L352.0,370.5L352.0,369.6L352.0,368.8L351.8,368.1L351.3,367.5L350.6,367.0L350.0,366.4L350.2,366.0L350.0,366.3L349.4,366.9L349.0,367.6L349.0,368.4L349.1,369.2L349.0,370.0L348.6,370.7L348.2,371.4L347.7,372.1L347.4,372.8L347.4,373.6L347.4,374.4L347.3,375.2L347.0,375.9L346.5,376.6L346.0,377.2L345.4,377.7L344.9,378.4L344.5,379.1L344.1,379.9L343.7,380.6L343.2,381.3L342.6,381.8L341.9,382.3L341.3,382.9L340.6,383.4L339.9,384.2L340.5,385.0L341.0,385.6L341.7,386.2L342.3,386.7L342.7,387.4L343.0,388.2L343.2,389.0L343.4,389.8L343.7,390.5L344.1,391.2L344.4,391.9L344.7,392.6L345.1,393.2L345.5,393.9L345.9,394.6L346.2,395.3L346.4,396.0L346.9,396.6L347.3,397.4L347.7,398.1L348.2,398.8L348.8,399.4L349.7,399.7L350.5,400.0L351.3,400.4L352.0,401.0L352.4,401.7L352.6,402.5L352.9,403.3L353.4,404.0L354.0,404.5L354.7,404.8L355.4,405.2L356.1,405.6L356.7,406.0L357.2,406.6L357.6,407.4L357.7,407.9L357.1,408.0L356.6,408.6L356.3,409.5L356.0,410.4L355.5,411.0L354.7,411.4L353.8,411.5L352.9,411.8L352.3,412.2L351.8,412.9L351.4,413.7L350.9,414.4L350.4,415.0L349.8,415.6L349.1,416.1L348.4,416.6L347.6,416.9L346.9,417.4L346.3,418.0L345.9,418.8L345.6,419.7L345.2,420.5L344.7,421.0L344.3,421.5L343.8,422.2L343.3,422.9L343.0,423.6L342.7,424.3L342.5,425.1L342.4,425.9L342.4,426.7L342.3,427.5L342.0,428.2L341.6,428.9L341.1,429.6L340.8,430.3"/></g>
<g fill="none" stroke="#0808F0" stroke-width="1.0" stroke-linejoin="round" stroke-linecap="round"><path d="M34.5,140.3L44.4,145.2L47.3,151.0L51.7,155.0L52.3,165.0L49.3,172.8L44.4,179.7L35.5,182.7L25.6,184.7L20.7,187.6L18.0,190.5"/>
<path d="M86.4,219.5L90.8,219.4L99.7,216.0L109.6,209.6L117.5,201.7L125.4,194.8L131.2,189.6L134.1,184.7L142.0,179.7L149.9,176.8L152.9,170.9L157.8,167.9L161.7,165.9L164.7,168.9L167.7,165.9L170.6,164.0L171.6,167.9L174.6,165.9L177.5,167.9L178.5,172.8L182.4,175.8L189.3,176.8L195.3,173.8L197.8,172.8L201.7,174.8L206.6,172.8L212.5,173.8L215.5,168.9L218.5,166.0L224.4,167.0L228.3,165.0L231.7,167.9L232.3,162.0L230.3,156.0L235.2,151.0L241.1,150.2L248.0,150.7"/>
<path d="M171.6,167.9L169.6,171.9L172.6,174.8L177.5,173.8"/>
<path d="M128.3,283.0L128.3,279.6L129.3,268.8L125.4,262.8L119.4,253.0L116.5,241.0L119.4,234.2L127.3,229.3L137.2,221.4L147.0,214.5L156.9,205.6L162.8,198.7L159.9,191.8L159.4,188.6L160.7,184.7L165.7,180.7L170.6,174.8"/>
<path d="M240.2,101.8L244.1,105.8L244.1,110.7L249.0,114.7L248.0,121.6L255.0,124.5L259.9,126.5L258.9,130.4L254.0,134.4L250.0,138.3L249.0,149.2L248.0,153.0L252.0,156.0L257.9,159.0L263.8,161.0L264.8,166.0L267.8,170.0L271.7,174.8L272.7,179.7L269.7,184.7L267.8,189.6L265.4,189.9L257.5,203.7L249.6,217.5L243.7,227.3L235.8,238.2L226.0,247.0L218.0,253.0L212.0,258.9L213.0,264.8L218.0,270.7L222.0,275.7"/>
<path d="M271.3,182.0L270.0,180.0L272.0,178.5L273.0,180.5L271.3,182.0L267.8,187.0"/>
<path d="M215.5,169.0L216.5,174.8L214.5,180.7L211.6,186.6L212.0,187.9L216.0,197.7L214.0,207.6L206.2,213.5L198.3,218.5L190.4,222.4L186.5,230.3L183.5,239.0L178.6,247.0L175.6,255.0L182.6,260.9L190.4,265.8L194.4,269.7L192.4,276.6L188.3,280.8"/>
<path d="M263.8,161.0L272.7,158.0L278.6,153.0L284.5,147.2L287.5,142.3L296.4,138.3L308.2,135.4L318.0,136.4L327.9,132.4L337.8,127.5L347.9,124.0L355.8,126.6L361.3,130.0"/>
<path d="M284.5,147.2L292.4,149.2L298.3,148.2L304.3,153.0L308.2,161.0L314.1,163.4L324.0,161.0L333.8,157.0L339.8,153.0L341.7,147.2L347.9,145.8L357.8,145.4L367.6,141.4L377.5,142.0L386.4,142.4L391.7,147.9"/>
<path d="M264.8,166.0L266.8,167.9L272.7,172.8L282.6,175.8L292.4,178.8L298.3,181.7L306.2,182.7L318.0,179.7L327.9,176.8L335.8,175.8L343.7,177.8L351.6,181.0L354.7,183.0L366.5,183.5L378.3,184.9L388.2,189.9L398.0,193.8L407.0,197.7L411.9,202.7L409.9,209.6L410.9,216.5L412.8,219.4"/>
<path d="M298.3,181.7L300.3,186.6L302.4,189.9L300.4,199.7L295.5,209.6L292.5,219.4L295.5,229.3L291.6,237.2L284.7,245.0L279.7,255.0L269.9,260.9L262.0,266.8"/>
<path d="M317.6,355.6L317.3,354.7L317.5,353.9L318.2,353.2L318.4,352.4L317.8,351.5L317.5,350.6L318.0,349.9L318.7,349.1L318.8,348.3L318.3,347.4L318.1,346.6L318.4,345.6L319.4,345.5L320.2,345.4L321.0,345.0L321.6,344.4L322.2,343.7L322.8,343.2L323.6,342.9L324.4,342.7L325.2,342.4L325.9,342.0L326.5,341.5L326.9,340.8L327.2,340.0L327.6,339.3L328.2,338.8L328.9,338.4L329.6,337.9L329.6,337.1L329.5,336.4L329.2,335.6L328.9,334.9L328.7,334.2L328.6,333.4L328.8,332.6L328.9,331.8L329.0,331.0L328.7,330.2L328.2,329.5L327.6,328.8L327.0,328.1L326.7,327.4L326.6,326.5L326.7,325.6L326.7,324.7L326.3,323.9L325.6,323.3L324.9,322.7L324.5,322.0L324.5,321.1L324.4,320.2L324.0,319.5L323.4,318.8L322.9,318.1L322.6,317.3L323.1,316.6L323.5,316.0L323.6,315.2L323.5,314.3L323.8,313.6L324.3,313.0L324.8,312.4L325.0,311.6L325.0,310.8L325.2,310.1L325.4,309.4L325.4,308.6L325.7,307.7L325.8,306.9L325.7,306.1L325.2,305.3L324.7,304.5L324.5,303.7L324.7,302.9L325.0,302.0L325.3,301.2L325.3,300.4L324.9,299.5L324.4,298.9L324.0,298.2L323.7,297.5L323.6,296.7L323.5,295.9L323.4,295.1L323.2,294.3L322.8,293.6L322.1,293.0L321.7,292.4L321.8,291.5L322.1,291.0L322.4,291.4L323.3,290.9L324.1,290.4L324.9,290.6L325.6,291.5L326.4,291.9L327.2,291.5L328.1,291.0L328.9,291.2L329.6,291.9L330.5,291.9L331.1,291.3L331.6,290.6L332.3,290.2L333.2,290.3L334.0,290.4L334.8,290.2L335.4,289.6L336.0,289.0L336.7,288.7L337.5,288.6L338.3,288.6L339.1,288.5L339.8,288.2L340.5,287.9L341.2,287.5L342.0,287.2L342.7,287.0L343.5,286.8L344.3,286.7L345.1,286.6L345.9,286.5L346.6,286.3L347.3,285.9L348.0,285.4L348.8,285.1L349.6,284.9L350.5,284.9L351.3,284.9L352.1,284.8L352.9,284.5L353.7,284.2L354.4,283.9L355.2,283.6L356.0,283.5L356.9,283.6L357.7,283.4L358.4,283.0L359.1,282.6L359.9,282.4L360.8,282.3L361.6,282.1L362.2,281.6L362.9,281.1L363.7,280.9L364.5,280.8L365.3,280.6L366.0,280.2L366.7,279.7L367.4,279.3L368.2,279.2L369.1,279.1L369.8,278.9L370.5,278.3L371.2,277.8L372.0,277.8L372.9,278.0L373.7,277.8L374.3,277.2L375.0,276.7L375.8,276.7L376.7,276.9L377.5,276.7L378.1,275.9L378.8,275.4L379.7,275.7L380.6,276.1L381.3,275.7L381.9,274.9L382.7,274.6L383.5,274.9L384.5,275.1L385.2,274.6L385.6,273.8L386.1,273.1L386.7,272.6L387.4,272.2L388.3,272.1L389.1,271.9L389.8,271.5L390.3,271.0L390.9,270.3L391.5,269.7L392.2,269.3L393.0,269.2L393.9,269.2L394.6,268.9L395.2,268.3L395.7,267.5L396.4,267.1L397.3,267.2L398.2,267.2L398.9,266.9L399.5,266.3L400.1,265.7L400.8,265.4L401.6,265.3L402.4,265.3L403.2,265.2L403.9,264.9L404.6,264.4L405.2,263.9L405.9,263.5L406.6,263.3L407.5,263.2L408.3,263.1L409.0,262.8L409.5,262.1L410.0,261.3L410.6,260.8L411.5,260.8L412.5,261.0L413.3,260.9L413.8,260.2L414.2,259.3L414.8,258.7L415.7,258.7L416.6,258.7L417.4,258.4L417.7,257.5L417.9,256.6L418.4,256.0L419.2,255.8L420.1,255.7L420.8,255.4L421.4,254.8L421.8,254.1L422.1,253.3L422.6,252.7L423.3,252.2L424.1,252.0L424.8,251.7L425.5,251.2L426.0,250.6L426.4,249.9L426.9,249.3L427.6,248.9L428.3,248.4L428.8,247.8L429.0,247.0L429.2,246.2L429.7,245.5L430.3,245.0L430.9,244.5L431.4,243.8L431.7,243.0L431.9,242.2L432.1,241.4L432.6,240.7L433.1,240.1L433.6,239.4L434.1,238.8L434.3,238.0L434.4,237.1L434.3,236.3L434.6,235.5L435.3,234.8L435.3,233.9L434.8,233.1L434.6,232.2L435.0,231.4L435.5,230.6L435.6,229.8L435.3,228.9L435.0,228.1L435.2,227.3L435.4,226.5L435.7,225.6L435.5,224.8L434.8,224.0L434.3,223.3L434.2,222.5L434.5,221.6L434.6,220.7L434.3,219.9L433.8,219.2L433.3,218.4L433.6,217.5" stroke-width="1.2"/>
<path d="M221.9,325.2L222.4,324.5L223.0,323.9L223.8,323.8L224.7,324.0L225.6,324.3L226.4,324.4L227.0,323.9L227.6,323.1L228.4,322.5L229.2,322.4L230.2,322.6L231.1,322.8L231.9,322.8L232.7,322.4L233.1,321.6L233.7,321.1L234.5,320.8L235.2,320.5L235.7,319.9L236.0,319.0L236.7,318.7L237.7,318.6L238.2,318.1L238.5,317.0L239.4,316.8L240.3,317.5L241.1,317.8L242.0,317.3L242.8,316.8L243.7,317.0L244.6,317.6L245.5,317.2L245.6,316.2L245.6,315.1L246.4,314.8L247.8,315.1L248.3,314.6L248.0,313.1L248.4,312.4L249.7,312.7L250.6,312.6L250.6,311.3L250.8,310.3L251.9,310.4L253.1,310.6L253.4,309.7L253.4,308.5L254.0,308.0L255.2,308.2L256.1,308.1L256.3,307.1L256.3,306.0L257.0,305.5L258.1,305.6L259.0,305.6L259.4,304.9L259.5,303.8L260.1,302.7L261.2,303.3L261.8,304.3L262.5,304.8L263.4,304.6L264.4,304.1L265.2,304.2L265.8,304.9L266.5,305.5L267.4,305.4L268.2,305.1L269.0,305.1L269.8,305.7L270.6,305.7L271.3,304.8L272.1,304.4L272.9,304.9L273.8,305.3L274.6,305.1L275.3,304.5L276.0,304.2L276.4,303.7L277.3,303.6L278.3,303.5L278.9,303.1L279.0,302.0L279.0,300.8L279.8,300.6L281.1,300.9L281.8,300.6L281.9,299.5L282.4,298.8L283.4,298.7L284.2,298.4L284.4,297.3L285.1,296.8L286.4,297.1L286.9,296.5L286.9,295.0L287.9,295.0L289.2,295.5L289.6,294.8L290.0,293.7L290.9,293.4L291.5,294.3L292.1,294.8L293.0,294.9L294.0,294.9L294.6,295.4L295.0,296.4L295.7,297.4L296.7,296.9L297.2,296.0L297.6,295.2L298.2,294.7L299.0,294.8L299.8,294.9L300.3,295.5L301.1,295.6L302.0,295.3L302.9,295.2L303.5,295.8L304.0,296.7L304.6,297.2L305.5,296.9L306.5,296.4L307.2,296.7L307.7,297.9L308.9,298.1L309.3,297.1L309.6,296.0L310.4,295.7L311.4,295.9L312.3,295.8L312.9,295.2L313.5,294.5L314.2,294.1L315.1,293.9L315.9,293.8L316.7,293.4L317.2,292.8L317.8,292.1L318.6,291.8L319.6,292.0L320.6,292.1L321.1,291.4L321.7,290.7" stroke-width="1.25"/>
<path d="M358.6,250.0L366.5,247.0L376.4,241.0L386.2,236.2L396.0,231.3L404.0,225.4L409.9,223.4L415.8,228.3L423.7,225.4L431.6,221.4L433.6,217.5"/>
<path d="M421.7,254.0L421.0,255.0L421.7,255.7L422.7,256.3L423.2,257.1L422.6,258.1L421.9,259.1L422.5,259.8L423.8,260.2L424.2,260.9L423.1,262.1L423.2,262.8L424.8,263.1L425.2,263.8L424.3,264.7L423.6,265.0L423.9,266.2L423.9,267.1L423.0,267.4L422.1,267.8L421.8,268.6L421.9,269.6L421.5,270.3L420.5,270.6L420.0,271.2L420.1,272.1L420.2,273.0L419.2,273.3L418.2,273.6L418.6,274.7L418.9,275.8L417.7,276.0L417.6,277.2L418.6,277.3L419.9,277.2L420.3,277.8L420.2,279.0L420.2,279.9L420.8,280.3L421.6,280.7L422.2,281.4L422.4,282.2L422.1,283.0L421.8,283.7L421.4,284.2L421.5,285.2L421.6,286.2L420.7,286.6L419.4,286.7L419.3,287.5L419.7,288.8L419.1,289.3L417.9,289.5L417.5,290.3L418.0,291.2L418.2,292.1L417.6,292.7L416.5,293.2L416.2,293.9L416.7,294.9L417.2,295.9L416.6,296.6L415.4,297.0L414.7,297.6L414.9,298.6L414.9,299.5L414.3,300.2L413.5,300.7L413.2,301.6L414.0,302.2L414.1,303.0L413.8,303.9L414.1,304.6L415.0,305.2L415.4,305.8L415.0,306.8L414.5,307.4L414.7,308.1L415.3,309.4L414.8,310.0L413.5,310.2L412.6,310.6L412.5,311.5L412.6,312.7L411.9,313.3L410.9,313.3L409.9,313.2L409.1,313.6L408.5,314.4L407.9,315.1L407.2,315.3L406.3,315.2L405.4,314.9L404.6,315.0L404.0,315.8L403.6,316.8L403.1,317.2L402.2,317.1L401.0,317.0L400.4,317.4L400.3,318.4L400.3,319.5L399.9,320.2L398.8,320.2L397.8,320.3L397.3,320.9L397.2,321.8L396.9,322.5L396.4,323.2L395.6,323.8L395.0,324.4L395.1,325.4L395.3,326.0L395.6,326.0L396.1,327.0L396.7,327.7L397.5,327.6L398.5,327.0L399.4,326.9L399.9,327.8L400.2,328.7L400.4,329.3L401.5,329.6L402.4,330.0L402.6,330.8L402.5,331.8L402.8,332.6L403.6,333.1L404.5,333.2L405.2,333.6L405.4,334.5L405.7,335.5L406.4,335.8L407.5,335.5L408.4,335.7L408.8,336.4L409.1,337.3L409.6,337.9L410.4,338.1L411.1,338.6L411.6,339.2L411.8,340.0L411.8,341.0L412.0,341.7L412.9,342.2L413.7,342.7L413.8,343.5L413.7,344.5L414.2,345.2L415.1,345.3L415.7,345.8L416.0,346.6L416.6,347.2L417.4,347.4L418.2,347.6L418.6,348.4L418.9,349.2L419.4,349.7L420.4,349.7L421.3,349.4L421.9,350.0L422.3,351.2L422.9,351.9L423.9,351.2L425.0,350.5L425.7,350.9L426.1,352.1L426.6,352.8L427.7,352.5L428.7,352.3L429.2,353.2L429.5,354.4L430.4,354.6L431.6,353.9L432.8,354.0L432.8,355.3L432.4,356.5L432.7,357.3L433.6,357.6L434.6,357.9L435.3,358.4L435.6,359.1L435.6,360.1L435.5,360.8L435.1,361.1L435.2,362.0L435.5,362.9L435.7,363.8L435.4,364.6L434.6,365.1L433.7,365.3L433.0,365.1L432.4,365.7L432.0,366.9L431.5,367.8L430.6,367.7L429.5,367.0L428.6,367.0L428.2,368.2L427.7,369.1L426.6,368.6L425.7,368.5L425.3,369.5L424.7,370.0L423.7,369.9L422.9,369.9L422.4,370.8L421.8,371.4L420.8,371.0L419.9,371.0L419.5,372.1L419.0,372.9L418.0,372.5L417.0,372.1L416.4,372.8L416.0,373.9L415.7,374.4L415.0,374.6L414.1,375.1L413.7,375.7L413.8,376.6L413.9,377.5L413.8,378.3L413.4,378.9L412.8,379.5L412.3,380.2L412.2,381.0L412.3,381.9L412.3,382.7L412.0,383.5L411.3,384.1L410.7,384.7L410.8,385.6L411.5,386.6L411.6,387.5L410.3,387.9L409.3,388.4L409.9,389.6L410.2,390.6L408.9,390.9L408.2,391.7L409.3,392.5L409.6,393.2L409.0,394.1L408.8,394.9L409.2,395.6L409.8,396.3L410.1,397.0L409.9,397.8L409.5,398.6L409.1,399.2L409.2,400.0L409.5,401.0L409.5,401.8L409.1,402.5L408.3,403.1L407.8,403.7L407.5,404.5L407.6,405.3L406.9,405.9L406.2,406.3L405.3,406.3L404.4,405.8L403.5,405.4L402.7,405.6L402.0,406.5" stroke-width="1.25"/>
<path d="M436.1,360.7L436.9,360.9L437.7,361.0L438.5,360.7L439.3,360.3L440.1,360.2L440.8,360.6L441.6,361.1L442.4,361.2L443.2,361.0L444.0,360.7L444.8,360.5L445.7,360.6L446.5,360.7L447.3,361.1L448.0,361.6L448.8,361.8L449.7,361.6L450.6,361.1L451.4,360.8L452.2,361.0L453.0,361.4L453.8,361.9L454.6,361.6L455.3,361.1L456.0,360.7L456.5,360.1L457.1,359.5L457.8,359.2L458.7,359.2L459.7,359.3L460.5,359.2L461.1,358.6L461.5,357.7L462.0,357.0L462.8,356.7L463.7,356.8L464.7,356.9L465.4,356.5L465.7,355.5L466.3,354.7L467.2,354.8L468.3,355.1L469.0,354.9L469.5,354.0L469.9,353.1L470.5,352.5L471.4,352.4L472.4,352.6L473.2,352.5L473.9,352.1L474.4,351.4L474.8,350.7L475.4,350.1L476.0,349.7L476.8,349.4L477.6,349.2L478.4,349.0L479.0,348.6L479.5,347.9L479.9,347.1L480.4,346.5L481.3,346.2L482.2,345.9L482.8,345.3L483.1,344.4" stroke-width="1.4"/>
<path d="M329.5,338.9L330.3,339.3L331.0,339.7L331.3,340.6L331.5,341.5L332.1,342.1L333.0,342.3L333.9,342.6L334.4,343.2L334.6,344.1L334.9,345.0L335.5,345.6L336.4,345.8L337.3,345.9L338.0,346.4L338.4,347.3L338.7,348.2L339.5,348.6L340.5,348.6L341.3,348.8L341.7,349.7L342.0,350.7L342.8,351.0L343.9,350.9L344.7,351.1L345.0,352.1L345.5,352.9L346.3,353.1L347.3,352.9L348.0,353.1L348.6,353.8L349.1,354.5L349.8,354.9L350.7,354.8L351.7,354.7L352.3,355.2L352.7,356.2L353.2,356.9L354.1,357.0L355.0,356.9L355.8,357.1L356.4,357.6L357.0,358.1L357.6,358.7L358.4,359.0L359.2,359.2L360.0,359.3L360.8,359.5L361.4,360.1L361.9,360.7L362.4,361.4L363.1,361.9L364.0,362.1L364.9,362.3L365.5,362.7L366.0,363.5L366.4,364.3L367.1,364.8L368.0,364.9L368.8,365.2L369.3,366.0L369.5,366.6L369.2,367.0L369.3,368.0L368.7,368.6L367.5,368.6L366.9,369.2L367.3,370.5L366.8,371.1L365.5,371.1L365.1,371.8L365.2,372.8L364.7,373.4L363.8,373.7L363.0,374.0L362.7,374.7L362.7,375.7L362.6,376.6L362.0,377.1L361.0,377.3L360.2,378.1L360.0,378.9L360.3,379.7L361.1,380.6L361.5,381.5L361.2,382.3L360.4,383.1L359.8,383.8L359.7,384.7L360.0,385.5L360.3,386.4L360.5,387.1L360.7,387.7L360.7,388.6L360.8,389.6L361.2,390.2L362.2,390.5L363.2,390.8L363.8,391.3L363.8,392.2L363.7,393.4L364.1,394.3L365.1,394.5L366.2,394.4L367.2,394.6L367.6,395.5L367.7,396.7L368.3,397.4L369.2,397.4L370.3,397.3L371.0,397.7L371.4,398.6L371.9,399.4L372.6,399.7L373.5,399.9L374.3,400.2L374.8,400.9L375.2,401.7L375.9,402.1L376.9,402.1L377.5,402.6L377.7,403.7L378.2,404.4L379.3,404.3L380.1,404.5L380.3,405.6L380.5,406.5L381.6,406.5L382.5,406.2L383.1,406.9L383.6,407.8L384.4,407.9L385.3,407.6L386.0,407.9L386.5,408.7L387.3,408.8" stroke-width="1.25"/>
<path d="M325.5,417.8L324.5,416.5L326.3,416.7L325.6,417.6L327.1,417.0L328.7,416.5L329.1,417.2L328.7,418.8L328.6,420.0L329.4,420.3L330.6,420.1L330.9,419.0L331.6,418.7L332.6,418.7L333.8,419.0L333.9,418.8L334.6,418.4L335.9,418.5L336.1,419.4L335.3,420.9L335.4,421.9L336.9,421.8L338.3,421.7L338.7,422.5L338.1,423.9L337.9,425.0L338.6,425.6L339.9,425.6L341.1,425.6L341.2,425.8L341.4,426.2L342.4,427.0L343.3,427.3L344.0,426.8L344.5,426.0L345.5,425.3L346.1,426.3L346.1,427.3L346.2,428.2L346.8,428.8L347.7,429.2L348.2,429.9L348.3,430.8L348.4,431.8L349.3,432.2L350.3,432.0L351.3,432.0L351.9,432.6L352.3,433.7L352.8,434.5L353.5,434.7L354.7,434.6L355.8,434.6L356.3,435.3L356.1,436.6L356.6,438.1L357.9,437.6L358.3,436.5L358.5,435.4L359.1,434.7L360.0,434.6L361.0,434.7L362.0,434.8L362.4,434.3L363.1,433.8L364.1,433.4L364.7,433.9L365.0,435.2L365.5,436.0L366.5,435.6L367.6,435.0L367.9,435.5L368.9,435.7L369.7,435.5L369.7,434.3L369.5,433.0L370.2,432.6L371.8,433.0L373.0,433.1L372.4,432.1L373.6,431.9L374.5,432.3L374.0,433.4L373.0,434.7L372.6,435.7L373.6,436.2L375.0,436.4L376.1,436.8L376.3,437.6L375.9,438.6L375.6,439.7L375.9,440.7L376.6,441.1L377.8,441.0L379.1,440.8L379.8,441.3L379.5,442.8L378.4,443.7L378.5,444.5L379.6,445.1L380.5,445.7L380.6,446.5L380.2,447.3L379.7,448.2L379.8,448.9L380.7,449.5L381.8,449.7L381.9,450.6L381.0,452.2L381.2,453.0L382.7,452.8L381.9,451.5L383.2,451.4L385.1,451.5L385.3,450.7L384.1,449.0L384.3,448.2L385.9,448.2L386.7,447.9L386.9,446.9L387.4,446.1L388.3,446.0L389.5,446.4L390.2,446.1L390.8,444.7L392.1,445.2L392.0,446.2L391.4,447.6L391.4,448.5L392.3,448.9L393.7,449.0L394.6,449.4L394.6,450.2L394.6,451.6L394.9,452.6L396.0,452.4L397.5,451.4L398.3,451.8L398.0,453.8L398.4,454.8L399.8,453.8L400.2,452.8L401.3,453.5L402.3,454.1L402.9,453.5L403.5,452.5L404.1,451.9L405.0,452.2L406.1,452.8L406.5,452.8L407.2,452.4L408.3,451.8L409.2,451.9L409.5,452.9L409.6,454.4L410.1,455.2L411.1,454.7L412.4,453.8L413.3,453.7L413.6,454.8L414.0,456.2L414.7,456.7L415.6,456.1L416.5,455.1L417.3,454.9L418.0,455.7L418.6,456.7L419.3,457.1L420.1,456.6L421.2,456.4L421.9,456.8L422.3,457.7L422.6,458.6L423.4,459.0L424.4,458.9L425.3,459.0L425.6,460.0L425.8,461.3L426.8,461.2L428.4,460.1L428.6,461.4L428.6,463.3L429.8,462.7L431.3,461.8L431.5,462.5L432.5,463.3L433.4,463.1L433.6,462.0L433.7,460.6L434.3,460.0L435.6,460.5L437.0,461.1L437.8,460.8L437.7,459.3L437.8,457.9L438.5,457.4L439.5,457.6L440.5,457.9L441.2,457.8L442.0,457.5L442.5,456.8L442.8,455.8L443.2,455.0L444.1,454.9L445.1,455.7L445.5,456.8L446.4,456.6L447.5,455.4L448.5,454.7L449.0,455.6L449.4,457.4L450.1,457.8L451.3,456.4L452.3,455.5L452.8,456.7L453.1,458.5L454.2,457.5" stroke-width="1.35"/>
<path d="M175.6,255.0L166.8,258.0L158.9,260.0L149.0,262.8L142.0,266.8" stroke-width="1.7"/>
<path d="M358.6,250.0L366.5,247.0L376.4,241.0L386.2,236.2" stroke-width="1.5"/>
<path d="M368.5,278.6L376.4,276.6L384.3,274.7L390.2,270.7" stroke-width="1.5"/>
<path d="M215.9,270.0L221.9,274.9"/>
<path d="M195.2,270.0L188.3,280.8"/>
<path d="M260.0,199.7L265.9,187.9L270.8,182.0"/>
<path d="M294.5,180.0L301.4,183.0L311.3,181.0L321.0,180.0"/></g>
<use href="#bel" fill="none" stroke="#1c1c1c" stroke-width="1.65" stroke-linejoin="round"/>
<path d="M329.0,80.0L331.0,78.0L334.0,78.5L334.5,82.0L332.5,85.0L329.5,85.5L328.5,83.0Z" fill="#111"/>
</g>
</defs>
<rect width="1280" height="507" fill="#fff"/>

<!-- LEFT MAP -->
<g clip-path="url(#clip)" shape-rendering="crispEdges">
<rect x="0" y="60" width="560" height="447" fill="#E34A33"/>
<path d="M70.0,112.0C73.7,114.2 64.3,120.0 62.0,123.0C59.7,126.0 58.8,125.7 56.0,130.0C53.2,134.3 47.8,142.3 45.0,149.0C42.2,155.7 40.6,164.5 39.0,170.0C37.4,175.5 38.1,179.0 35.5,182.0C32.9,185.0 26.9,186.3 23.5,188.0C20.1,189.7 18.9,191.7 15.0,192.0C11.1,192.3 2.5,198.7 0.0,190.0C-2.5,181.3 -6.7,153.3 0.0,140.0C6.7,126.7 28.3,114.7 40.0,110.0C51.7,105.3 66.3,109.8 70.0,112.0Z" fill="#FCA55D"/>
<path d="M111.0,149.0C111.3,145.2 117.5,139.7 120.5,137.0C123.5,134.3 125.8,133.3 129.0,133.0C132.2,132.7 136.8,133.2 139.5,135.0C142.2,136.8 144.5,140.1 145.5,144.0C146.5,147.9 146.2,154.8 145.5,158.5C144.8,162.2 143.6,165.3 141.0,166.5C138.4,167.7 133.8,166.7 130.0,165.5C126.2,164.3 121.7,162.2 118.5,159.5C115.3,156.8 110.7,152.8 111.0,149.0Z" fill="#FCA55D"/>
<path d="M198.0,255.5C196.5,254.8 198.3,249.1 200.0,247.0C201.7,244.9 205.8,243.3 208.0,243.0C210.2,242.7 213.3,243.6 213.5,245.0C213.7,246.4 211.6,249.8 209.0,251.5C206.4,253.2 199.5,256.2 198.0,255.5Z" fill="#FCA55D"/>
<path d="M209.0,118.0C209.1,132.5 209.2,124.2 209.5,127.0C209.8,129.8 209.9,132.0 210.5,135.0C211.1,138.0 211.8,142.3 213.0,145.0C214.2,147.7 215.1,149.7 218.0,151.0C220.9,152.3 225.7,152.8 230.5,153.0C235.3,153.2 242.0,151.7 247.0,152.0C252.0,152.3 256.8,154.7 260.5,155.0C264.2,155.3 267.0,155.2 269.5,154.0C272.0,152.8 273.0,150.0 275.5,147.5C278.0,145.0 281.1,141.3 284.5,139.0C287.9,136.7 292.1,134.5 296.0,133.5C299.9,132.5 304.8,132.5 308.0,133.0C311.2,133.5 312.4,133.7 315.0,136.5C317.6,139.3 321.1,146.4 323.7,150.0C326.3,153.6 329.3,154.7 330.5,158.0C331.7,161.3 331.0,166.4 331.0,170.0C331.0,173.6 331.4,176.2 330.5,179.5C329.6,182.8 327.1,186.6 325.5,189.5C323.9,192.4 321.0,194.4 320.7,197.0C320.4,199.6 321.2,202.7 323.7,205.0C326.2,207.3 332.2,209.2 335.5,211.0C338.8,212.8 342.0,214.2 343.5,216.0C345.0,217.8 344.4,220.0 344.5,222.0C344.6,224.0 344.5,225.5 343.8,228.0C343.1,230.5 342.2,234.2 340.5,237.0C338.8,239.8 336.0,244.2 333.5,244.5C331.0,244.8 327.9,241.3 325.6,238.7C323.3,236.1 322.0,231.4 319.7,229.0C317.4,226.6 314.6,224.7 311.8,224.0C309.0,223.3 305.8,224.3 303.0,225.0C300.2,225.7 297.5,227.0 295.0,228.0C292.5,229.0 291.2,229.3 288.0,231.0C284.8,232.7 279.3,235.7 276.0,238.0C272.7,240.3 271.2,242.9 268.0,245.0C264.8,247.1 259.4,248.6 256.5,250.5C253.6,252.4 251.6,254.1 250.5,256.5C249.4,258.9 249.8,262.2 250.0,265.0C250.2,267.8 249.8,269.8 251.5,273.5C253.2,277.2 258.2,282.6 260.5,287.0C262.8,291.4 265.7,297.2 265.5,300.0C265.3,302.8 261.7,303.3 259.5,304.0C257.3,304.7 254.5,305.2 252.5,304.0C250.5,302.8 249.4,297.5 247.5,297.0C245.6,296.5 244.1,299.3 241.0,301.0C237.9,302.7 233.0,305.0 229.0,307.0C225.0,309.0 220.3,311.7 217.0,313.0C213.7,314.3 211.3,314.6 209.0,315.0C206.7,315.4 204.9,316.5 203.0,315.5C201.1,314.5 199.6,311.2 197.5,309.0C195.4,306.8 193.5,303.0 190.5,302.0C187.5,301.0 183.0,302.0 179.5,303.0C176.0,304.0 172.4,306.2 169.5,308.0C166.6,309.8 165.2,311.7 162.0,314.0C158.8,316.3 153.7,317.7 150.0,322.0C146.3,326.3 140.0,307.0 140.0,340.0C140.0,373.0 76.7,490.0 150.0,520.0C223.3,550.0 508.3,600.0 580.0,520.0C651.7,440.0 641.8,120.0 580.0,40.0C518.2,-40.0 270.8,27.0 209.0,40.0C147.2,53.0 208.9,103.5 209.0,118.0Z" fill="#FCA55D"/>
<path d="M302.2,98.5C302.2,99.3 302.0,100.3 301.6,101.0C301.2,101.7 300.6,102.3 300.0,102.6C299.4,102.8 298.6,102.8 298.0,102.6C297.4,102.3 296.8,101.7 296.4,101.0C296.0,100.3 295.8,99.3 295.8,98.5C295.8,97.7 296.0,96.7 296.4,96.0C296.8,95.3 297.4,94.7 298.0,94.4C298.6,94.2 299.4,94.2 300.0,94.4C300.6,94.7 301.2,95.3 301.6,96.0C302.0,96.7 302.2,97.7 302.2,98.5Z" fill="#E34A33"/>
<path d="M362.3,118.6C363.0,117.3 364.7,117.7 365.6,118.4C366.5,119.1 366.9,121.4 367.5,123.0C368.1,124.6 368.9,126.2 368.9,127.8C368.9,129.4 368.3,131.7 367.4,132.5C366.5,133.3 364.3,133.7 363.3,132.6C362.3,131.5 361.8,128.5 361.6,126.2C361.4,123.9 361.6,119.9 362.3,118.6Z" fill="#E34A33"/>
<path d="M380.0,176.6C380.0,175.2 381.3,174.3 383.0,174.0C384.7,173.7 388.2,174.0 390.0,174.6C391.8,175.2 393.2,176.4 393.7,177.6C394.1,178.8 393.5,180.4 392.7,181.5C391.9,182.6 390.3,183.8 388.7,184.0C387.1,184.2 384.4,183.7 383.0,182.5C381.6,181.3 380.0,178.0 380.0,176.6Z" fill="#E34A33"/>
<path d="M383.2,244.2L388.7,239.8L402.0,237.6L415.2,229.9L417.4,225.5L426.3,221.0L432.9,216.6L440.0,212.0L440.0,226.0L448.3,225.5L450.5,236.5L449.4,247.5L441.7,253.0L437.3,261.9L426.3,264.0L421.8,260.8L410.8,259.7L403.0,264.0L389.8,265.2L387.6,255.3Z" fill="#E34A33"/>
<path d="M360.0,267.4L364.4,264.8L375.5,266.3L386.5,267.9L385.4,274.0L377.7,278.5L370.0,285.0L362.0,285.0L359.0,280.7Z" fill="#E34A33"/>
<path d="M311.7,292.5L321.5,288.0L333.5,289.0L342.5,293.0L333.5,298.0L327.5,307.0L326.0,323.0L323.8,312.0L320.0,298.0Z" fill="#E34A33"/>
<path d="M241.0,205.0C241.2,201.8 241.5,197.7 242.5,195.0C243.5,192.3 245.1,190.3 247.0,189.0C248.9,187.7 251.7,187.0 254.0,187.0C256.3,187.0 259.2,187.3 261.0,189.0C262.8,190.7 264.2,193.8 265.0,197.0C265.8,200.2 266.0,205.0 265.5,208.0C265.0,211.0 263.9,213.2 262.0,215.0C260.1,216.8 256.7,218.2 254.0,219.0C251.3,219.8 248.2,220.8 246.0,220.0C243.8,219.2 241.8,216.5 241.0,214.0C240.2,211.5 240.8,208.2 241.0,205.0Z" fill="#A50026"/>
<path d="M427.4,243.0L430.7,236.0L432.9,237.6L432.9,245.3L429.6,247.5Z" fill="#A50026"/>
<path d="M399.6,165.8C399.8,164.4 401.2,162.3 402.5,162.0C403.8,161.7 405.7,163.1 407.5,164.0C409.3,164.9 412.1,166.1 413.4,167.7C414.7,169.3 414.2,172.2 415.4,173.7C416.5,175.2 419.2,175.1 420.3,176.6C421.4,178.1 422.0,180.5 422.0,182.5C422.0,184.5 421.6,187.3 420.3,188.5C419.0,189.7 416.1,189.6 414.4,189.4C412.7,189.2 410.8,189.1 410.0,187.5C409.2,185.9 409.9,182.1 409.5,179.6C409.1,177.1 408.8,174.2 407.5,172.7C406.2,171.2 402.9,171.8 401.6,170.7C400.3,169.5 399.5,167.2 399.6,165.8Z" fill="#FEE99E"/>
<path d="M358.0,196.0C358.2,193.8 361.2,189.8 363.0,189.0C364.8,188.2 366.8,190.2 369.0,191.4C371.2,192.6 374.2,194.2 376.0,196.0C377.8,197.8 379.5,200.0 380.0,202.0C380.5,204.0 380.0,206.4 379.0,208.0C378.0,209.6 375.8,211.5 374.0,211.5C372.2,211.5 370.0,209.6 368.0,208.0C366.0,206.4 363.7,204.0 362.0,202.0C360.3,200.0 357.8,198.2 358.0,196.0Z" fill="#FEE99E"/>
<path d="M218.0,390.0C218.9,384.0 222.6,386.0 225.5,383.9C228.4,381.8 232.6,379.6 235.5,377.2C238.4,374.8 241.4,373.4 243.2,369.5C245.0,365.6 244.8,358.2 246.5,354.0C248.2,349.8 250.3,346.9 253.1,344.1C255.9,341.4 260.7,340.3 263.1,337.5C265.5,334.7 265.1,331.0 267.5,327.5C269.9,324.0 273.9,319.2 277.4,316.5C280.9,313.8 285.2,312.3 288.5,311.0C291.8,309.7 294.6,308.2 297.3,308.8C300.1,309.4 303.2,311.6 305.0,314.3C306.8,317.1 307.2,321.2 308.3,325.3C309.4,329.4 311.3,334.9 311.7,338.6C312.1,342.3 311.2,344.4 310.5,347.4C309.8,350.3 307.8,353.4 307.2,356.3C306.6,359.2 307.4,361.1 307.2,365.0C307.0,368.9 307.2,370.8 306.0,380.0C304.8,389.2 314.3,413.3 300.0,420.0C285.7,426.7 233.7,425.0 220.0,420.0C206.3,415.0 217.1,396.0 218.0,390.0Z" fill="#FEE99E"/>
<path d="M465.0,215.0C445.8,219.7 465.2,224.1 465.0,228.0C464.8,231.9 463.6,235.6 463.8,238.7C464.0,241.8 465.1,243.5 466.0,246.4C466.9,249.3 469.1,253.3 469.3,256.4C469.5,259.5 468.3,262.6 467.0,265.0C465.7,267.4 463.6,269.0 461.6,270.7C459.6,272.4 457.2,273.9 455.0,275.0C452.8,276.1 451.2,277.7 448.3,277.4C445.4,277.1 440.6,273.6 437.3,273.0C434.0,272.4 432.6,273.5 428.5,274.0C424.4,274.5 417.4,275.2 413.0,276.0C408.6,276.8 405.3,277.3 402.0,278.5C398.7,279.7 395.2,281.0 393.0,283.0C390.8,285.0 390.0,287.7 388.7,290.6C387.4,293.5 386.9,297.8 385.4,300.5C383.9,303.2 382.7,305.3 379.9,307.0C377.1,308.7 371.5,309.0 368.8,310.5C366.1,312.0 365.4,313.5 363.6,316.0C361.8,318.5 359.3,322.3 358.0,325.3C356.7,328.3 355.6,331.2 355.8,334.2C356.0,337.1 357.1,340.6 359.1,343.0C361.1,345.4 366.0,346.3 368.0,348.5C370.0,350.7 370.9,353.6 371.3,356.3C371.7,359.1 371.5,363.0 370.2,365.0C368.9,367.0 366.6,367.5 363.6,368.4C360.7,369.3 355.8,370.2 352.5,370.6C349.2,371.0 346.3,371.0 343.7,370.6C341.1,370.2 339.8,369.3 337.0,368.4C334.2,367.5 330.2,366.1 327.0,365.0C323.8,363.9 320.8,359.2 318.0,362.0C315.2,364.8 311.8,375.3 310.0,382.0C308.2,388.7 308.7,379.0 307.0,402.0C305.3,425.0 254.5,500.3 300.0,520.0C345.5,539.7 533.3,573.3 580.0,520.0C626.7,466.7 599.2,250.8 580.0,200.0C560.8,149.2 484.2,210.3 465.0,215.0Z" fill="#FEE99E"/>
<path d="M380.0,329.6C381.0,328.1 382.2,325.5 384.0,323.7C385.8,321.9 388.2,319.7 390.8,318.7C393.4,317.7 397.2,317.8 399.7,317.8C402.2,317.8 404.5,317.2 405.6,318.7C406.8,320.2 407.2,324.5 406.6,326.6C406.0,328.8 403.8,330.5 401.7,331.6C399.6,332.8 396.4,332.4 393.8,333.5C391.2,334.6 388.2,337.8 385.9,338.5C383.6,339.2 381.3,338.4 380.0,337.5C378.7,336.6 378.0,334.3 378.0,333.0C378.0,331.7 379.0,331.2 380.0,329.6Z" fill="#FCA55D"/>
<path d="M481.0,215.0C464.5,219.8 481.7,225.8 481.0,229.0C480.3,232.2 478.2,232.0 477.0,234.3C475.8,236.6 473.5,240.1 473.7,243.0C473.9,245.9 477.1,249.0 478.0,252.0C478.9,255.0 480.2,257.9 479.3,260.8C478.4,263.7 474.5,266.7 472.6,269.6C470.8,272.6 470.4,275.7 468.2,278.5C466.0,281.3 462.7,284.7 459.4,286.2C456.1,287.7 451.2,286.2 448.3,287.3C445.4,288.4 443.9,291.2 441.7,292.8C439.5,294.4 437.3,295.9 435.1,297.2C432.9,298.5 430.3,298.4 428.5,300.5C426.7,302.6 424.9,306.7 424.4,309.9C423.9,313.1 425.9,316.4 425.4,319.7C424.9,323.0 422.5,326.3 421.4,329.6C420.2,332.9 418.3,336.3 418.5,339.4C418.7,342.5 422.9,345.8 422.4,348.3C421.9,350.8 418.6,352.7 415.5,354.2C412.4,355.7 407.0,355.7 403.7,357.2C400.4,358.7 398.4,360.8 395.8,363.1C393.2,365.4 390.7,369.0 387.9,371.0C385.1,373.0 381.9,373.0 379.0,375.0C376.1,377.0 373.1,380.4 370.2,382.8C367.2,385.2 364.2,388.9 361.3,389.4C358.4,389.9 355.4,387.3 352.5,386.0C349.6,384.7 347.0,383.0 343.7,381.7C340.4,380.4 335.9,379.1 332.6,378.3C329.3,377.6 326.9,377.3 323.8,377.2C320.7,377.1 316.5,373.7 314.0,377.5C311.5,381.3 311.3,376.2 309.0,400.0C306.7,423.8 254.8,500.0 300.0,520.0C345.2,540.0 533.3,573.3 580.0,520.0C626.7,466.7 596.5,250.8 580.0,200.0C563.5,149.2 497.5,210.2 481.0,215.0Z" fill="#E9F6E8"/>
<path d="M250.0,410.0C241.7,406.4 254.0,401.8 256.4,398.2C258.8,394.6 261.1,391.1 264.2,388.3C267.3,385.6 271.1,383.4 275.2,381.7C279.2,380.0 284.4,378.9 288.5,378.3C292.6,377.7 296.6,377.9 299.5,377.9C302.4,377.8 304.9,371.0 306.0,378.0C307.1,385.0 315.3,414.7 306.0,420.0C296.7,425.3 258.3,413.6 250.0,410.0Z" fill="#E9F6E8"/>
<path d="M492.5,220.0C477.9,225.8 492.7,231.2 492.5,235.0C492.3,238.8 491.9,240.3 491.4,243.1C490.8,245.9 490.1,249.1 489.2,252.0C488.3,254.9 487.4,258.2 485.9,260.8C484.4,263.4 482.2,264.8 480.4,267.4C478.5,270.0 476.1,273.4 474.8,276.3C473.5,279.2 474.4,282.4 472.6,285.0C470.8,287.6 467.1,290.3 463.8,291.7C460.5,293.1 453.4,292.6 452.8,293.5C452.2,294.4 458.3,295.8 460.5,297.2C462.7,298.6 465.4,299.8 466.0,301.7C466.6,303.6 465.6,306.6 463.8,308.3C462.0,310.0 457.5,311.0 455.0,311.6C452.5,312.2 450.7,310.5 449.0,311.8C447.3,313.1 447.8,317.7 445.0,319.7C442.2,321.7 435.1,321.4 432.3,323.7C429.5,326.0 429.5,330.6 428.3,333.5C427.1,336.4 424.7,338.6 425.4,341.4C426.1,344.2 430.5,347.3 432.3,350.3C434.1,353.3 436.5,356.6 436.2,359.2C435.9,361.8 433.1,364.5 430.3,366.0C427.5,367.5 423.5,367.3 419.4,368.0C415.3,368.7 409.9,368.8 405.6,370.0C401.3,371.2 396.6,372.9 393.8,375.0C391.0,377.1 390.2,380.3 388.9,382.8C387.6,385.3 386.6,387.6 386.0,390.0C385.4,392.4 384.8,394.4 385.0,397.5C385.2,400.6 385.2,405.6 387.3,408.8C389.4,412.0 394.7,413.9 397.5,416.7C400.3,419.5 402.0,422.4 404.3,425.8C406.6,429.2 408.5,433.9 411.1,437.1C413.8,440.3 417.2,443.0 420.2,445.1C423.2,447.2 426.2,449.0 429.2,449.6C432.2,450.2 435.3,449.4 438.3,448.5C441.3,447.6 444.8,445.5 447.4,444.0C450.0,442.5 451.3,441.4 454.2,439.4C457.1,437.4 444.0,433.6 465.0,432.0C486.0,430.4 560.8,468.7 580.0,430.0C599.2,391.3 594.6,235.0 580.0,200.0C565.4,165.0 507.1,214.2 492.5,220.0Z" fill="#A3D3E6"/>
<path d="M312.0,396.0C313.0,395.2 315.8,395.8 318.0,396.0C320.2,396.2 323.5,396.4 325.0,397.0C326.5,397.6 327.2,398.8 327.0,399.5C326.8,400.2 325.5,401.2 324.0,401.5C322.5,401.8 320.0,401.6 318.0,401.5C316.0,401.4 313.0,401.9 312.0,401.0C311.0,400.1 311.0,396.8 312.0,396.0Z" fill="#A3D3E6"/>
<path d="M480.2,302.8C480.2,303.2 479.9,303.6 479.6,303.9C479.2,304.1 478.5,304.3 478.0,304.3C477.5,304.3 476.8,304.1 476.4,303.9C476.1,303.6 475.8,303.2 475.8,302.8C475.8,302.4 476.1,302.0 476.4,301.7C476.8,301.5 477.5,301.3 478.0,301.3C478.5,301.3 479.2,301.5 479.6,301.7C479.9,302.0 480.2,302.4 480.2,302.8Z" fill="#E9F6E8"/>
<path d="M508.0,248.0C494.9,250.4 503.2,252.6 501.4,254.2C499.6,255.8 499.2,255.5 497.0,257.5C494.8,259.5 490.8,263.6 488.0,266.3C485.2,269.1 482.2,271.2 480.4,274.0C478.6,276.8 476.4,280.1 477.0,282.9C477.6,285.7 481.5,288.2 483.7,290.6C485.9,293.0 489.2,295.1 490.3,297.2C491.4,299.3 490.6,300.9 490.5,303.0C490.4,305.1 491.5,307.9 489.5,310.0C487.5,312.1 481.4,314.2 478.6,315.8C475.8,317.4 474.3,317.7 472.7,319.7C471.1,321.7 471.1,325.5 468.8,327.6C466.5,329.7 462.6,331.5 459.0,332.5C455.4,333.5 450.3,333.5 447.0,333.5C443.7,333.5 441.2,331.5 439.2,332.5C437.2,333.5 435.2,337.2 435.2,339.4C435.2,341.5 436.6,343.9 439.2,345.4C441.8,346.9 447.4,347.5 451.0,348.3C454.6,349.1 459.2,349.2 461.0,350.3C462.8,351.4 462.6,353.1 461.9,355.2C461.2,357.3 458.5,360.4 457.0,363.0C455.5,365.6 456.0,368.7 453.0,371.0C450.0,373.3 443.1,374.7 439.2,377.0C435.2,379.3 432.1,382.3 429.3,384.8C426.5,387.3 423.9,389.3 422.4,391.8C420.9,394.3 419.8,397.1 420.2,399.7C420.6,402.3 423.6,404.5 424.7,407.7C425.8,410.9 426.4,415.8 427.0,419.0C427.6,422.2 426.6,424.7 428.1,427.0C429.6,429.3 433.6,432.0 436.0,432.6C438.4,433.2 440.8,431.5 442.8,430.8C444.8,430.1 444.3,429.3 448.0,428.5C451.7,427.7 443.0,427.4 465.0,426.0C487.0,424.6 560.8,451.0 580.0,420.0C599.2,389.0 592.0,268.7 580.0,240.0C568.0,211.3 521.1,245.6 508.0,248.0Z" fill="#598DC0"/>
<path d="M522.0,250.0C510.9,251.1 517.0,253.5 513.5,256.4C510.1,259.3 505.2,264.5 501.3,267.4C497.4,270.3 492.9,271.8 490.3,274.0C487.7,276.2 486.1,278.5 485.9,280.7C485.7,282.9 487.3,284.7 489.2,287.3C491.1,289.9 494.6,293.2 497.0,296.1C499.4,299.1 501.3,302.4 503.5,305.0C505.7,307.6 507.6,309.9 510.2,311.6C512.8,313.3 516.0,314.5 519.0,315.0C522.0,315.5 525.5,314.2 528.0,314.8C530.5,315.4 531.0,317.5 533.8,318.7C536.6,319.9 537.3,321.8 545.0,322.0C552.7,322.2 574.2,332.0 580.0,320.0C585.8,308.0 589.7,261.7 580.0,250.0C570.3,238.3 533.1,248.9 522.0,250.0Z" fill="#313695"/>
<path d="M496.0,321.5L509.0,319.5L509.0,322.0L496.0,322.8Z" fill="#313695"/>
<path d="M318.0,414.0C320.2,410.4 325.2,414.5 328.3,414.5C331.4,414.5 334.0,413.2 336.3,414.0C338.6,414.8 340.3,417.0 342.0,419.0C343.7,421.0 346.7,423.5 346.5,425.8C346.3,428.1 343.6,430.9 340.8,432.6C338.0,434.3 332.3,434.8 329.5,436.0C326.7,437.2 326.2,440.0 323.8,440.0C321.4,440.0 316.0,440.3 315.0,436.0C314.0,431.7 315.8,417.6 318.0,414.0Z" fill="#FEE99E"/>
<path d="M352.0,380.0C354.7,379.0 365.3,379.0 368.0,380.0C370.7,381.0 369.0,384.4 368.0,386.0C367.0,387.6 364.0,388.9 362.0,389.5C360.0,390.1 357.7,390.1 356.0,389.5C354.3,388.9 352.7,387.6 352.0,386.0C351.3,384.4 349.3,381.0 352.0,380.0Z" fill="#FEE99E"/>
<path d="M385.0,470.0C386.8,468.1 388.6,469.5 390.7,468.9C392.8,468.3 394.1,466.8 397.5,466.6C400.9,466.4 407.0,466.8 411.1,467.7C415.2,468.6 418.6,470.6 422.4,472.3C426.2,474.0 430.8,475.9 433.8,478.0C436.8,480.1 439.6,481.0 440.6,484.7C441.6,488.4 446.8,496.6 440.0,500.0C433.2,503.4 410.0,508.3 400.0,505.0C390.0,501.7 382.5,485.8 380.0,480.0C377.5,474.2 383.2,471.9 385.0,470.0Z" fill="#FEE99E"/>
<path d="M406.6,485.9L411.1,480.2L414.5,485.9L411.1,493.8L407.0,497.0L404.0,492.0Z" fill="#FCA55D"/>
</g>
<use href="#overlay"/>
<circle cx="497.7" cy="358.5" r="2.0" fill="#598DC0" stroke="#1c1c1c" stroke-width="1.5"/>
<use href="#logo"/>
<text x="79" y="30.6" font-size="14.66" font-weight="bold">Température moyenne</text>
<text x="78.2" y="51.6" font-size="12.9">moyenne octobre 2024</text>
<circle cx="620" cy="66.6" r="1.7" fill="none" stroke="#000" stroke-width="0.95"/><text x="623.3" y="73.9" font-size="14" font-weight="bold">C</text>
<rect x="563" y="96.00" width="25.9" height="49.96" fill="#A50026"/><rect x="563" y="145.46" width="25.9" height="49.96" fill="#E34A33"/><rect x="563" y="194.93" width="25.9" height="49.96" fill="#FCA55D"/><rect x="563" y="244.39" width="25.9" height="49.96" fill="#FEE99E"/><rect x="563" y="293.85" width="25.9" height="49.96" fill="#E9F6E8"/><rect x="563" y="343.31" width="25.9" height="49.96" fill="#A3D3E6"/><rect x="563" y="392.77" width="25.9" height="49.96" fill="#598DC0"/><rect x="563" y="442.24" width="25.9" height="49.96" fill="#313695"/><text x="601.3" y="102.1" font-size="14.6">13.5</text><text x="601.3" y="151.5" font-size="14.6">13</text><text x="601.3" y="200.8" font-size="14.6">12.5</text><text x="601.3" y="250.2" font-size="14.6">12</text><text x="601.3" y="299.5" font-size="14.6">11.5</text><text x="601.3" y="348.9" font-size="14.6">11</text><text x="601.3" y="398.3" font-size="14.6">10.5</text><text x="601.3" y="447.6" font-size="14.6">10</text><text x="601.3" y="497.0" font-size="14.6">9.5</text>

<!-- RIGHT MAP -->
<g transform="translate(640,0)">
<g clip-path="url(#clip)" shape-rendering="crispEdges">
<rect x="0" y="60" width="560" height="447" fill="#FDBB6C"/>
<path d="M318.0,241.5C320.3,239.8 322.6,238.3 325.0,237.0C327.4,235.7 330.1,233.3 332.6,233.4C335.1,233.5 337.2,235.2 340.1,237.6C343.0,240.0 346.8,245.2 350.1,247.7C353.5,250.2 356.0,252.6 360.2,252.7C364.4,252.8 370.2,248.8 375.2,248.2C380.2,247.6 386.2,248.2 390.2,249.0C394.2,249.8 398.6,250.8 399.0,252.7C399.4,254.6 394.6,257.3 392.7,260.2C390.8,263.1 388.0,266.0 387.7,270.2C387.4,274.4 389.9,279.4 390.8,285.4C391.7,291.4 393.5,300.0 393.3,306.0C393.1,312.0 390.8,317.1 389.5,321.3C388.2,325.6 385.6,329.1 385.6,331.5C385.6,333.9 387.4,335.0 389.5,335.4C391.6,335.8 394.9,335.1 398.5,334.0C402.1,332.9 406.6,330.1 411.3,329.0C416.0,327.9 421.6,327.3 426.7,327.7C431.8,328.1 436.9,329.8 442.0,331.5C447.1,333.2 453.1,336.1 457.4,338.0C461.7,339.9 463.8,341.9 467.7,343.0C471.6,344.1 477.1,345.4 480.5,344.4C483.9,343.4 485.0,339.8 488.2,337.2C491.4,334.6 496.7,332.1 499.7,329.0C502.7,325.9 505.4,321.7 506.0,318.7C506.6,315.7 504.9,312.7 503.6,311.0C502.4,309.3 501.5,308.5 498.5,308.5C495.5,308.5 490.3,310.6 485.6,311.0C480.9,311.4 474.1,312.3 470.3,311.0C466.5,309.7 465.2,305.6 462.6,303.3C460.0,301.0 457.2,298.8 454.9,297.0C452.5,295.2 448.1,294.1 448.5,292.6C448.9,291.1 453.3,289.4 457.4,288.0C461.4,286.6 467.7,285.1 472.8,284.0C477.9,282.9 484.4,280.6 488.2,281.5C492.0,282.4 492.7,287.1 495.9,289.2C499.1,291.3 504.0,294.2 507.4,294.4C510.8,294.6 513.2,291.1 516.4,290.5C519.6,289.9 521.9,290.6 526.7,290.5C531.5,290.4 534.5,290.1 545.0,290.0C555.5,289.9 582.5,251.7 590.0,290.0C597.5,328.3 638.3,481.7 590.0,520.0C541.7,558.3 347.2,539.7 300.0,520.0C252.8,500.3 305.2,425.0 307.0,402.0C308.8,379.0 310.2,387.7 311.0,382.0C311.8,376.3 312.5,371.6 312.0,368.0C311.5,364.4 309.0,362.8 307.9,360.2C306.8,357.6 306.6,356.5 305.4,352.7C304.1,348.9 302.1,342.6 300.4,337.6C298.7,332.6 296.0,326.4 295.4,322.6C294.8,318.8 296.2,317.6 296.6,315.0C297.0,312.4 297.8,309.4 297.9,307.0C298.0,304.6 296.9,303.1 297.0,300.3C297.1,297.5 297.6,293.6 298.2,290.3C298.8,287.0 300.2,284.1 300.8,280.3C301.4,276.5 301.2,271.9 302.0,267.7C302.8,263.5 304.3,258.6 305.8,255.2C307.3,251.8 309.0,249.3 311.0,247.0C313.0,244.7 315.7,243.2 318.0,241.5Z" fill="#EA593A"/>
<path d="M331.3,272.7C331.3,270.0 332.1,266.5 333.8,264.0C335.5,261.5 338.7,258.8 341.4,257.7C344.1,256.6 347.7,256.4 350.1,257.2C352.5,258.0 354.6,259.7 355.6,262.7C356.7,265.7 356.9,271.8 356.4,275.2C355.9,278.6 354.9,281.1 352.6,282.8C350.3,284.5 345.7,285.7 342.6,285.3C339.5,284.9 335.7,282.4 333.8,280.3C331.9,278.2 331.3,275.4 331.3,272.7Z" fill="#FDBB6C"/>
<path d="M195.5,275.2C195.8,271.3 197.6,269.2 200.5,266.5C203.4,263.8 208.8,260.7 213.0,259.0C217.2,257.3 222.0,257.4 225.6,256.4C229.2,255.3 231.8,253.7 234.3,252.7C236.8,251.7 238.5,249.6 240.6,250.2C242.7,250.8 245.2,254.1 246.9,256.4C248.6,258.7 250.0,260.2 250.6,264.0C251.2,267.8 249.8,275.0 250.6,279.0C251.4,283.0 253.7,285.1 255.6,287.8C257.5,290.5 261.1,293.3 261.9,295.3C262.7,297.3 261.8,298.0 260.3,300.0C258.8,302.0 254.5,304.6 252.8,307.5C251.1,310.4 249.9,313.9 250.3,317.6C250.7,321.4 254.3,326.3 255.3,330.0C256.3,333.7 256.7,335.8 256.5,340.0C256.3,344.2 254.4,350.0 254.0,355.0C253.6,360.0 252.9,365.0 254.0,370.0C255.1,375.0 258.0,381.4 260.3,385.2C262.6,389.0 264.9,391.1 267.8,392.8C270.7,394.5 275.1,392.4 277.8,395.3C280.5,398.2 297.0,405.9 284.0,410.0C271.0,414.1 214.8,431.7 200.0,420.0C185.2,408.3 194.5,356.3 195.0,340.0C195.5,323.7 201.3,326.2 203.0,322.0C204.7,317.8 205.5,317.8 205.2,315.0C204.9,312.2 202.4,309.2 201.4,305.0C200.4,300.8 199.9,295.0 198.9,290.0C197.9,285.0 195.2,279.1 195.5,275.2Z" fill="#EA593A"/>
<path d="M198.0,205.0C198.4,202.3 200.1,199.0 203.0,196.3C205.9,193.6 210.5,190.7 215.5,188.8C220.5,186.9 226.8,186.0 233.0,185.0C239.2,184.0 248.0,183.0 253.0,183.0C258.0,183.0 260.1,183.4 263.0,185.0C265.9,186.6 268.6,189.4 270.7,192.5C272.8,195.6 273.2,201.9 275.7,203.8C278.2,205.7 283.4,203.0 285.7,203.8C288.0,204.6 289.1,206.9 289.5,208.8C289.9,210.7 289.9,213.5 288.2,215.0C286.5,216.5 282.3,216.5 279.4,217.6C276.5,218.7 273.8,220.6 270.7,221.4C267.6,222.2 264.1,221.8 260.7,222.6C257.3,223.4 252.3,224.1 250.6,226.4C248.9,228.7 249.4,234.3 250.6,236.4C251.8,238.5 256.3,237.7 258.0,238.9C259.7,240.2 261.1,242.5 260.7,243.9C260.3,245.3 257.7,247.2 255.6,247.2C253.5,247.2 250.5,245.1 248.0,243.9C245.5,242.7 243.1,242.3 240.6,240.0C238.1,237.7 235.1,233.7 233.0,230.0C230.9,226.3 230.5,220.3 228.0,217.6C225.5,214.9 221.3,214.2 218.0,213.8C214.7,213.4 210.9,215.2 208.0,215.0C205.1,214.8 202.2,214.3 200.5,212.6C198.8,210.9 197.6,207.7 198.0,205.0Z" fill="#EA593A"/>
<path d="M140.4,226.4C140.8,224.7 144.6,223.7 147.9,222.6C151.2,221.5 156.7,220.0 160.4,220.0C164.2,220.0 169.4,220.9 170.4,222.6C171.4,224.3 167.7,227.3 166.7,230.0C165.7,232.7 164.8,236.2 164.2,238.9C163.6,241.6 164.2,245.0 162.9,246.4C161.6,247.8 158.5,248.7 156.6,247.2C154.7,245.7 153.5,240.0 151.6,237.6C149.7,235.2 147.3,234.5 145.4,232.6C143.5,230.7 140.0,228.1 140.4,226.4Z" fill="#EA593A"/>
<path d="M170.4,139.7L176.7,139.7L181.7,145.2L181.0,150.7L170.4,149.7Z" fill="#EA593A"/>
<path d="M109.5,167.8L115.3,165.8L117.8,169.0L113.3,172.8Z" fill="#EA593A"/>
<path d="M434.0,222.0L463.3,222.0L463.3,240.0L463.3,255.0L462.0,259.0L459.0,262.7L454.0,263.2L450.4,262.7L445.0,260.5L440.4,257.7L437.0,254.8L434.2,251.4L433.5,244.0L434.0,237.6Z" fill="#EA593A"/>
<path d="M246.9,203.8L258.0,203.8L258.0,208.8L246.9,208.8Z" fill="#A50026"/>
<path d="M316.7,321.3C317.1,318.4 321.1,314.7 324.2,312.6C327.3,310.5 331.7,309.0 335.5,308.8C339.3,308.6 344.4,309.4 346.8,311.3C349.2,313.2 350.0,316.6 350.0,320.0C350.0,323.4 348.8,328.2 346.8,331.4C344.8,334.5 340.9,338.1 338.0,338.9C335.1,339.7 331.9,337.9 329.2,336.4C326.5,334.9 323.8,332.5 321.7,330.0C319.6,327.5 316.3,324.2 316.7,321.3Z" fill="#A50026"/>
<path d="M388.9,364.0C389.4,362.1 390.9,360.3 393.1,359.0C395.3,357.7 398.8,355.8 401.9,356.0C405.0,356.2 410.6,358.0 411.9,360.2C413.1,362.4 410.8,366.5 409.4,369.0C407.9,371.5 405.7,374.2 403.2,375.2C400.7,376.1 396.6,375.5 394.4,374.7C392.2,373.9 391.0,372.0 390.1,370.2C389.2,368.4 388.4,365.9 388.9,364.0Z" fill="#A50026"/>
<path d="M340.8,406.5C340.2,403.9 341.1,401.3 342.0,399.7C342.9,398.1 344.6,397.2 346.5,396.8C348.4,396.4 351.6,396.6 353.3,397.5C355.0,398.4 355.7,400.3 356.7,402.0C357.7,403.7 358.3,405.8 359.4,407.7C360.5,409.6 361.3,412.1 363.5,413.3C365.7,414.6 370.3,414.3 372.5,415.2C374.7,416.1 376.2,417.6 376.6,418.6C377.0,419.6 377.0,421.1 374.8,421.3C372.6,421.6 367.1,420.5 363.5,420.1C359.9,419.7 356.3,419.8 353.3,419.0C350.3,418.2 347.4,417.7 345.3,415.6C343.2,413.5 341.4,409.1 340.8,406.5Z" fill="#A50026"/>
<path d="M406.6,419.0C407.0,416.7 409.0,413.9 410.0,413.3C411.0,412.7 412.1,413.9 412.7,415.6C413.3,417.3 413.7,421.1 413.4,423.5C413.1,425.9 412.1,429.3 411.1,429.9C410.2,430.5 408.4,428.8 407.7,427.0C406.9,425.2 406.2,421.3 406.6,419.0Z" fill="#A50026"/>
<path d="M403.2,478.0C404.3,474.9 405.3,472.8 406.6,471.1C407.9,469.4 409.4,467.5 411.1,467.7C412.8,467.9 415.1,470.0 416.8,472.3C418.5,474.6 420.4,478.5 421.3,481.3C422.2,484.1 421.9,486.2 422.4,489.3C422.8,492.4 427.1,497.9 424.0,500.0C420.9,502.1 408.0,503.7 404.0,502.0C400.0,500.3 400.1,494.0 400.0,490.0C399.9,486.0 402.1,481.1 403.2,478.0Z" fill="#A50026"/>
<path d="M47.0,128.0C54.5,129.6 45.5,132.4 45.0,137.7C44.5,143.0 44.5,154.2 43.9,160.0C43.3,165.8 41.6,168.6 41.4,172.8C41.2,177.0 42.8,182.4 42.6,185.3C42.4,188.2 41.7,186.9 40.0,190.0C38.3,193.1 33.4,199.6 32.6,203.8C31.8,208.0 35.3,212.0 35.0,215.0C34.7,218.0 36.8,220.8 31.0,222.0C25.2,223.2 5.2,237.7 0.0,222.0C-5.2,206.3 -7.8,143.7 0.0,128.0C7.8,112.3 39.5,126.4 47.0,128.0Z" fill="#FFFFBF"/>
<path d="M124.0,116.0C127.1,113.7 140.7,114.4 144.0,116.0C147.3,117.6 143.4,122.3 144.0,125.7C144.6,129.1 147.6,133.3 147.4,136.4C147.2,139.5 145.3,142.1 142.9,144.0C140.5,145.9 136.0,146.7 132.8,147.7C129.7,148.7 126.3,149.8 124.0,150.0C121.7,150.2 119.0,150.7 119.0,149.0C119.0,147.3 123.0,143.2 124.0,140.0C125.0,136.8 125.3,134.0 125.3,130.0C125.3,126.0 120.9,118.3 124.0,116.0Z" fill="#FFFFBF"/>
<path d="M209.3,114.0C209.4,125.8 208.7,120.9 209.3,125.7C209.9,130.5 211.1,137.6 213.0,142.7C214.9,147.8 217.7,153.7 220.6,156.5C223.5,159.3 225.6,159.1 230.6,159.5C235.6,159.9 246.4,160.1 250.6,159.0C254.8,157.9 252.7,156.0 255.6,152.7C258.5,149.4 263.6,142.9 268.2,139.0C272.8,135.1 280.3,132.2 283.2,129.0C286.1,125.8 286.1,123.2 285.7,120.0C285.3,116.8 282.4,113.3 280.7,110.0C279.0,106.7 275.7,102.9 275.7,100.0C275.7,97.1 278.6,94.9 280.7,92.6C282.8,90.3 286.1,88.7 288.2,86.3C290.2,83.9 292.2,83.2 293.0,78.0C293.8,72.8 307.0,58.8 293.0,55.0C279.0,51.2 222.9,45.2 209.0,55.0C195.1,64.8 209.2,102.2 209.3,114.0Z" fill="#FFFFBF"/>
<path d="M443.5,128.0C439.0,129.4 443.4,131.9 442.9,136.4C442.4,140.9 441.0,149.5 440.4,155.2C439.8,160.8 439.0,166.5 439.1,170.3C439.2,174.1 440.2,175.7 441.0,178.0C441.8,180.3 439.2,183.0 444.0,184.0C448.8,185.0 465.7,193.3 470.0,184.0C474.3,174.7 474.4,137.3 470.0,128.0C465.6,118.7 448.0,126.6 443.5,128.0Z" fill="#FFFFBF"/>
<path d="M406.4,167.3C406.4,168.0 405.9,168.8 405.3,169.3C404.7,169.7 403.6,170.1 402.8,170.1C402.0,170.1 400.9,169.7 400.3,169.3C399.7,168.8 399.2,168.0 399.2,167.3C399.2,166.6 399.7,165.8 400.3,165.3C400.9,164.9 402.0,164.5 402.8,164.5C403.6,164.5 404.7,164.9 405.3,165.3C405.9,165.8 406.4,166.6 406.4,167.3Z" fill="#FFFFBF"/>
<path d="M351.4,186.3L362.7,181.3L375.2,182.5L390.2,193.8L407.8,192.5L422.8,190.0L432.8,186.3L445.0,186.0L445.0,200.0L430.3,202.6L425.3,212.6L415.3,220.0L400.3,221.4L380.2,221.4L362.7,221.4L358.9,210.0L353.9,197.5Z" fill="#FFFFBF"/>
<path d="M475.4,242.7C475.7,240.5 477.3,238.3 479.2,237.0C481.1,235.7 484.2,235.3 486.7,234.6C489.2,233.9 491.1,232.8 494.2,233.0C497.2,233.2 503.2,233.3 505.0,236.0C506.8,238.7 507.0,246.0 505.0,249.0C503.0,252.0 496.7,253.1 493.0,254.0C489.3,254.9 485.6,255.3 483.0,254.7C480.4,254.1 478.7,252.2 477.4,250.2C476.1,248.2 475.1,244.9 475.4,242.7Z" fill="#FFFFBF"/>
<path d="M161.7,295.3C163.8,293.9 167.3,292.1 170.4,291.5C173.5,290.9 178.6,291.2 180.5,292.0C182.4,292.8 182.5,294.9 181.7,296.5C180.8,298.1 178.5,300.5 175.4,301.6C172.3,302.7 165.8,303.6 162.9,303.3C160.0,303.0 158.2,301.3 158.0,300.0C157.8,298.7 159.6,296.7 161.7,295.3Z" fill="#FFFFBF"/>
<path d="M420.3,273.0L422.3,273.0L422.5,290.0L420.5,290.0Z" fill="#FFFFBF"/>
</g>
<use href="#overlay"/>
<circle cx="497.7" cy="358.5" r="2.0" fill="#EA593A" stroke="#1c1c1c" stroke-width="1.5"/>
<use href="#logo"/>
<text x="79" y="30.6" font-size="14.66" font-weight="bold">Ecart à la normale de la température moyenne</text>
<text x="78.2" y="51.6" font-size="12.9">moyenne octobre 2024 par rapport à la normale mensuelle 1991-2020</text>
<text x="577.4" y="73.8" font-size="14" font-weight="bold">Ecart</text><circle cx="619.5" cy="67.2" r="1.7" fill="none" stroke="#000" stroke-width="0.95"/><text x="623.3" y="73.8" font-size="14" font-weight="bold">C</text>
<rect x="563" y="96.00" width="25.9" height="99.42" fill="#A50026"/><rect x="563" y="194.93" width="25.9" height="99.42" fill="#EA593A"/><rect x="563" y="293.85" width="25.9" height="99.42" fill="#FDBB6C"/><rect x="563" y="392.77" width="25.9" height="99.42" fill="#FFFFBF"/><text x="601.3" y="102.1" font-size="14.6">2.5</text><text x="601.3" y="200.8" font-size="14.6">2</text><text x="601.3" y="299.5" font-size="14.6">1.5</text><text x="601.3" y="398.3" font-size="14.6">1</text><text x="601.3" y="497.0" font-size="14.6">0.5</text>
</g>
</svg>
</body></html>
